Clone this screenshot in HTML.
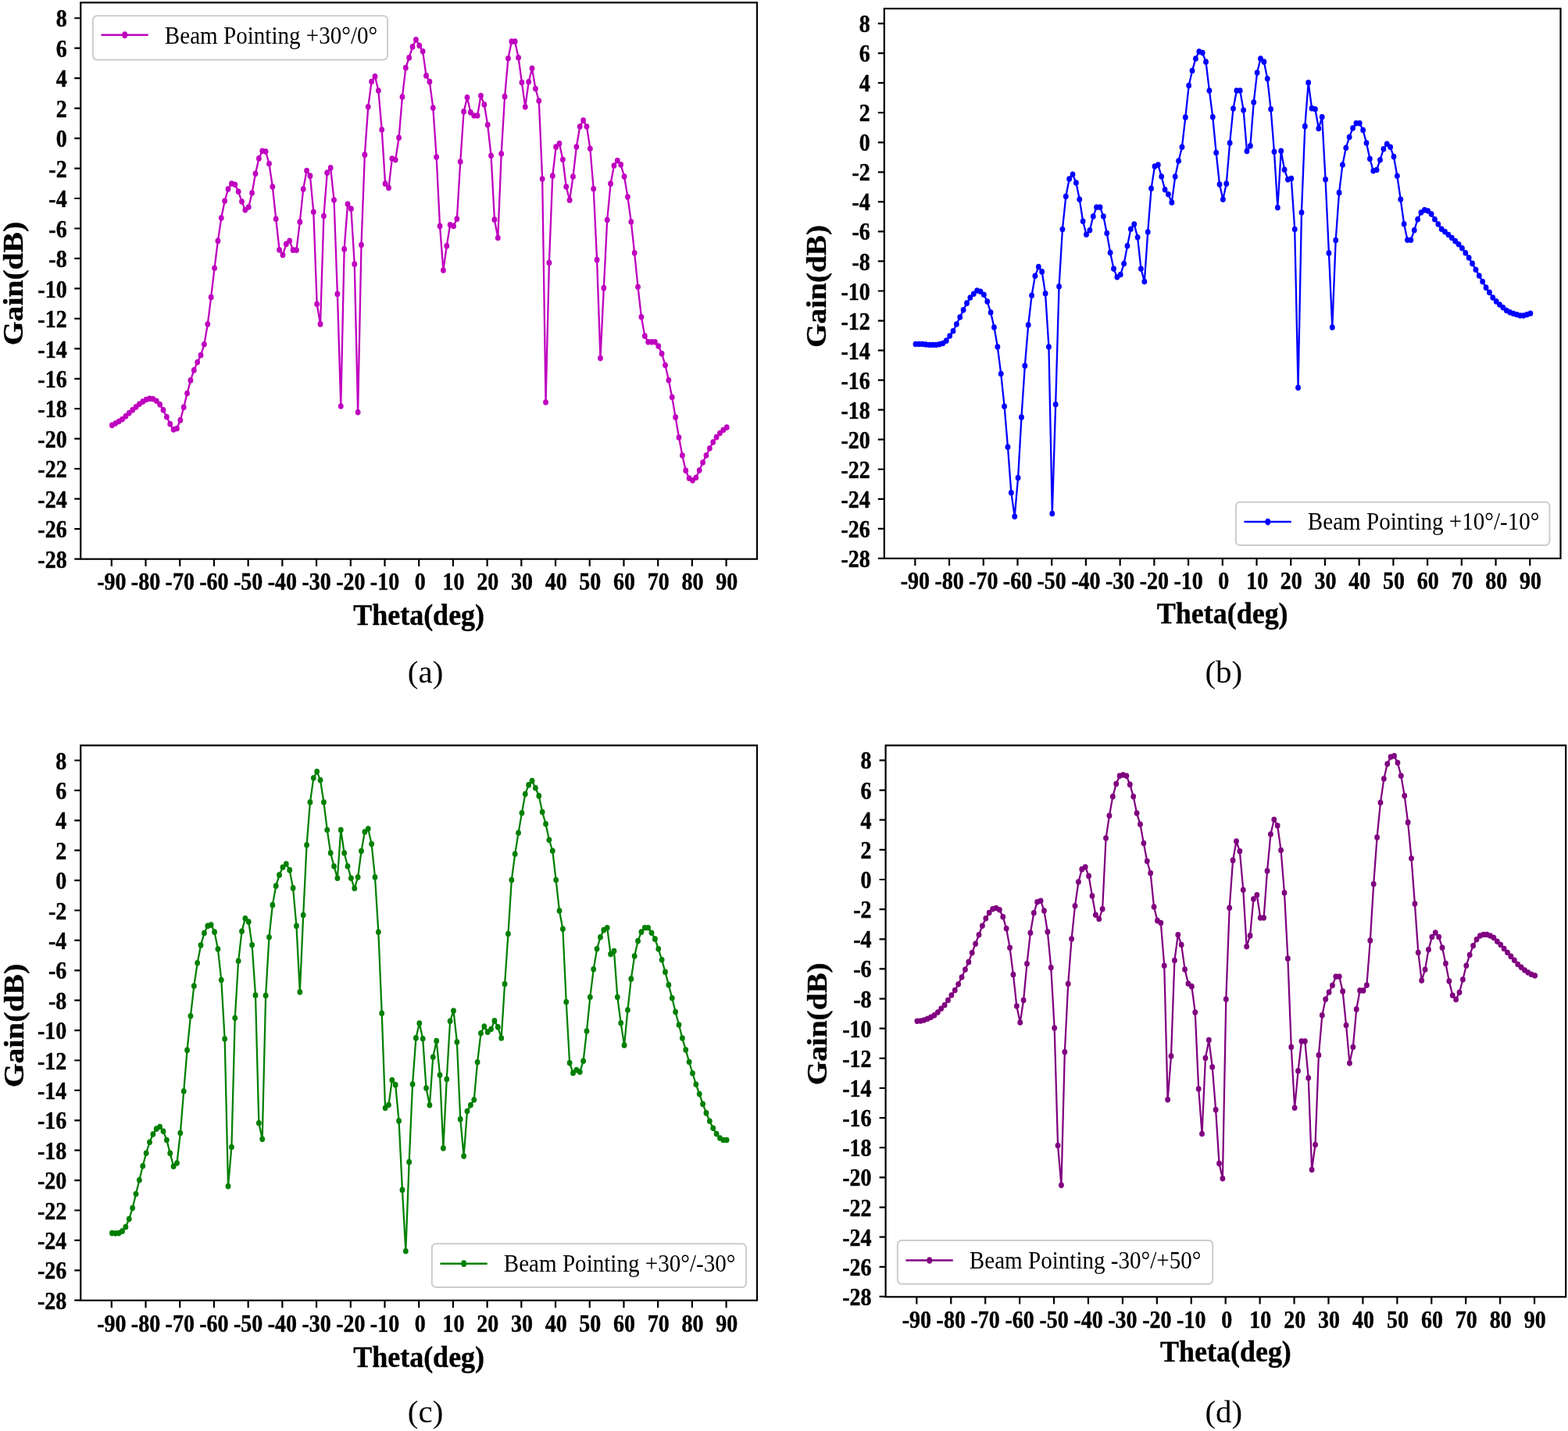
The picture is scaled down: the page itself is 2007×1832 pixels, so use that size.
<!DOCTYPE html>
<html lang="en"><head><meta charset="utf-8"><title>Beam pointing gain patterns</title>
<style>
html,body{margin:0;padding:0;background:#fff;}
body{width:2007px;height:1832px;overflow:hidden;}
svg{display:block;}
text{fill:#000;}
</style></head>
<body>
<svg width="2007" height="1832" viewBox="0 0 2007 1832">
<rect width="2007" height="1832" fill="#fff"/>
<g id="panel-a">
<polyline fill="none" stroke="#bf00bf" stroke-width="2.3" stroke-linejoin="round" points="143.41,544.45 147.78,541.99 152.15,539.52 156.52,536.73 160.89,532.94 165.27,528.83 169.64,524.89 174.01,521.11 178.38,517.33 182.75,514.2 187.12,511.57 191.49,510.42 195.86,510.75 200.23,513.22 204.6,517.82 208.98,524.89 213.35,533.77 217.72,542.81 222.09,549.88 226.46,548.56 230.83,537.88 235.2,521.44 239.57,503.52 243.94,486.91 248.31,473.93 252.69,463.73 257.06,454.69 261.43,440.72 265.8,415.07 270.17,380.39 274.54,343.24 278.91,308.38 283.28,279.05 287.65,257.35 292.02,242.07 296.4,235 300.77,236.31 305.14,245.35 309.51,258.01 313.88,268.86 318.25,265.08 322.62,247 326.99,222.34 331.36,202.94 335.73,193.24 340.11,194.06 344.48,209.52 348.85,239.11 353.22,280.21 357.59,319.99 361.96,326.4 366.33,312.43 370.7,308.32 375.07,320.15 379.44,320.15 383.82,284.15 388.19,242.07 392.56,218.56 396.93,225.13 401.3,271.33 405.67,389.27 410.04,414.91 414.41,276.59 418.78,221.19 423.15,214.94 427.53,256.04 431.9,376.44 436.27,519.96 440.64,318.91 445.01,261.3 449.38,267.22 453.75,338.14 458.12,527.85 462.49,313.58 466.86,198.17 471.24,136.86 475.61,104.47 479.98,97.89 484.35,115.98 488.72,166.12 493.09,235.16 497.46,240.42 501.83,203.11 506.2,204.58 510.57,176.31 514.95,124.03 519.32,86.72 523.69,73.89 528.06,59.92 532.43,50.88 536.8,58.44 541.17,65.84 545.54,96.91 549.91,104.63 554.28,138.01 558.66,200.97 563.03,289.41 567.4,346.1 571.77,314.89 576.14,287.77 580.51,289.41 584.88,280.21 589.25,207.05 593.62,142.94 597.99,124.85 602.37,143.92 606.74,148.03 611.11,148.03 615.48,122.55 619.85,133.9 624.22,159.87 628.59,199.32 632.96,281.19 637.33,304.54 641.7,196.86 646.08,123.7 650.45,74.71 654.82,53.18 659.19,53.18 663.56,73.73 667.93,105.62 672.3,136.86 676.67,104.8 681.04,87.54 685.41,113.51 689.79,128.96 694.16,229.08 698.53,514.97 702.9,336.44 707.27,225.13 711.64,188.15 716.01,183.87 720.38,204.26 724.75,239.11 729.12,256.2 733.5,226.12 737.87,187.98 742.24,162.01 746.61,154.12 750.98,162.01 755.35,190.28 759.72,241.74 764.09,332.66 768.46,458.58 772.83,368.66 777.21,281.52 781.58,235.16 785.95,211.98 790.32,205.57 794.69,210.83 799.06,226.12 803.43,252.09 807.8,283.99 812.17,323.77 816.54,367.35 820.92,405.81 825.29,430.14 829.66,437.87 834.03,437.87 838.4,437.87 842.77,442.97 847.14,452.83 851.51,467.46 855.88,486.86 860.25,508.56 864.63,534.2 869,560.01 873.37,583.03 877.74,602.43 882.11,612.29 886.48,615.08 890.85,611.47 895.22,602.1 899.59,592.07 903.96,583.03 908.34,573.99 912.71,566.1 917.08,559.68 921.45,554.59 925.82,550.48 930.19,547.19"/>
<g fill="#bf00bf"><ellipse cx="143.41" cy="544.45" rx="3.4" ry="3.83"/><ellipse cx="147.78" cy="541.99" rx="3.4" ry="3.83"/><ellipse cx="152.15" cy="539.52" rx="3.4" ry="3.83"/><ellipse cx="156.52" cy="536.73" rx="3.4" ry="3.83"/><ellipse cx="160.89" cy="532.94" rx="3.4" ry="3.83"/><ellipse cx="165.27" cy="528.83" rx="3.4" ry="3.83"/><ellipse cx="169.64" cy="524.89" rx="3.4" ry="3.83"/><ellipse cx="174.01" cy="521.11" rx="3.4" ry="3.83"/><ellipse cx="178.38" cy="517.33" rx="3.4" ry="3.83"/><ellipse cx="182.75" cy="514.2" rx="3.4" ry="3.83"/><ellipse cx="187.12" cy="511.57" rx="3.4" ry="3.83"/><ellipse cx="191.49" cy="510.42" rx="3.4" ry="3.83"/><ellipse cx="195.86" cy="510.75" rx="3.4" ry="3.83"/><ellipse cx="200.23" cy="513.22" rx="3.4" ry="3.83"/><ellipse cx="204.6" cy="517.82" rx="3.4" ry="3.83"/><ellipse cx="208.98" cy="524.89" rx="3.4" ry="3.83"/><ellipse cx="213.35" cy="533.77" rx="3.4" ry="3.83"/><ellipse cx="217.72" cy="542.81" rx="3.4" ry="3.83"/><ellipse cx="222.09" cy="549.88" rx="3.4" ry="3.83"/><ellipse cx="226.46" cy="548.56" rx="3.4" ry="3.83"/><ellipse cx="230.83" cy="537.88" rx="3.4" ry="3.83"/><ellipse cx="235.2" cy="521.44" rx="3.4" ry="3.83"/><ellipse cx="239.57" cy="503.52" rx="3.4" ry="3.83"/><ellipse cx="243.94" cy="486.91" rx="3.4" ry="3.83"/><ellipse cx="248.31" cy="473.93" rx="3.4" ry="3.83"/><ellipse cx="252.69" cy="463.73" rx="3.4" ry="3.83"/><ellipse cx="257.06" cy="454.69" rx="3.4" ry="3.83"/><ellipse cx="261.43" cy="440.72" rx="3.4" ry="3.83"/><ellipse cx="265.8" cy="415.07" rx="3.4" ry="3.83"/><ellipse cx="270.17" cy="380.39" rx="3.4" ry="3.83"/><ellipse cx="274.54" cy="343.24" rx="3.4" ry="3.83"/><ellipse cx="278.91" cy="308.38" rx="3.4" ry="3.83"/><ellipse cx="283.28" cy="279.05" rx="3.4" ry="3.83"/><ellipse cx="287.65" cy="257.35" rx="3.4" ry="3.83"/><ellipse cx="292.02" cy="242.07" rx="3.4" ry="3.83"/><ellipse cx="296.4" cy="235" rx="3.4" ry="3.83"/><ellipse cx="300.77" cy="236.31" rx="3.4" ry="3.83"/><ellipse cx="305.14" cy="245.35" rx="3.4" ry="3.83"/><ellipse cx="309.51" cy="258.01" rx="3.4" ry="3.83"/><ellipse cx="313.88" cy="268.86" rx="3.4" ry="3.83"/><ellipse cx="318.25" cy="265.08" rx="3.4" ry="3.83"/><ellipse cx="322.62" cy="247" rx="3.4" ry="3.83"/><ellipse cx="326.99" cy="222.34" rx="3.4" ry="3.83"/><ellipse cx="331.36" cy="202.94" rx="3.4" ry="3.83"/><ellipse cx="335.73" cy="193.24" rx="3.4" ry="3.83"/><ellipse cx="340.11" cy="194.06" rx="3.4" ry="3.83"/><ellipse cx="344.48" cy="209.52" rx="3.4" ry="3.83"/><ellipse cx="348.85" cy="239.11" rx="3.4" ry="3.83"/><ellipse cx="353.22" cy="280.21" rx="3.4" ry="3.83"/><ellipse cx="357.59" cy="319.99" rx="3.4" ry="3.83"/><ellipse cx="361.96" cy="326.4" rx="3.4" ry="3.83"/><ellipse cx="366.33" cy="312.43" rx="3.4" ry="3.83"/><ellipse cx="370.7" cy="308.32" rx="3.4" ry="3.83"/><ellipse cx="375.07" cy="320.15" rx="3.4" ry="3.83"/><ellipse cx="379.44" cy="320.15" rx="3.4" ry="3.83"/><ellipse cx="383.82" cy="284.15" rx="3.4" ry="3.83"/><ellipse cx="388.19" cy="242.07" rx="3.4" ry="3.83"/><ellipse cx="392.56" cy="218.56" rx="3.4" ry="3.83"/><ellipse cx="396.93" cy="225.13" rx="3.4" ry="3.83"/><ellipse cx="401.3" cy="271.33" rx="3.4" ry="3.83"/><ellipse cx="405.67" cy="389.27" rx="3.4" ry="3.83"/><ellipse cx="410.04" cy="414.91" rx="3.4" ry="3.83"/><ellipse cx="414.41" cy="276.59" rx="3.4" ry="3.83"/><ellipse cx="418.78" cy="221.19" rx="3.4" ry="3.83"/><ellipse cx="423.15" cy="214.94" rx="3.4" ry="3.83"/><ellipse cx="427.53" cy="256.04" rx="3.4" ry="3.83"/><ellipse cx="431.9" cy="376.44" rx="3.4" ry="3.83"/><ellipse cx="436.27" cy="519.96" rx="3.4" ry="3.83"/><ellipse cx="440.64" cy="318.91" rx="3.4" ry="3.83"/><ellipse cx="445.01" cy="261.3" rx="3.4" ry="3.83"/><ellipse cx="449.38" cy="267.22" rx="3.4" ry="3.83"/><ellipse cx="453.75" cy="338.14" rx="3.4" ry="3.83"/><ellipse cx="458.12" cy="527.85" rx="3.4" ry="3.83"/><ellipse cx="462.49" cy="313.58" rx="3.4" ry="3.83"/><ellipse cx="466.86" cy="198.17" rx="3.4" ry="3.83"/><ellipse cx="471.24" cy="136.86" rx="3.4" ry="3.83"/><ellipse cx="475.61" cy="104.47" rx="3.4" ry="3.83"/><ellipse cx="479.98" cy="97.89" rx="3.4" ry="3.83"/><ellipse cx="484.35" cy="115.98" rx="3.4" ry="3.83"/><ellipse cx="488.72" cy="166.12" rx="3.4" ry="3.83"/><ellipse cx="493.09" cy="235.16" rx="3.4" ry="3.83"/><ellipse cx="497.46" cy="240.42" rx="3.4" ry="3.83"/><ellipse cx="501.83" cy="203.11" rx="3.4" ry="3.83"/><ellipse cx="506.2" cy="204.58" rx="3.4" ry="3.83"/><ellipse cx="510.57" cy="176.31" rx="3.4" ry="3.83"/><ellipse cx="514.95" cy="124.03" rx="3.4" ry="3.83"/><ellipse cx="519.32" cy="86.72" rx="3.4" ry="3.83"/><ellipse cx="523.69" cy="73.89" rx="3.4" ry="3.83"/><ellipse cx="528.06" cy="59.92" rx="3.4" ry="3.83"/><ellipse cx="532.43" cy="50.88" rx="3.4" ry="3.83"/><ellipse cx="536.8" cy="58.44" rx="3.4" ry="3.83"/><ellipse cx="541.17" cy="65.84" rx="3.4" ry="3.83"/><ellipse cx="545.54" cy="96.91" rx="3.4" ry="3.83"/><ellipse cx="549.91" cy="104.63" rx="3.4" ry="3.83"/><ellipse cx="554.28" cy="138.01" rx="3.4" ry="3.83"/><ellipse cx="558.66" cy="200.97" rx="3.4" ry="3.83"/><ellipse cx="563.03" cy="289.41" rx="3.4" ry="3.83"/><ellipse cx="567.4" cy="346.1" rx="3.4" ry="3.83"/><ellipse cx="571.77" cy="314.89" rx="3.4" ry="3.83"/><ellipse cx="576.14" cy="287.77" rx="3.4" ry="3.83"/><ellipse cx="580.51" cy="289.41" rx="3.4" ry="3.83"/><ellipse cx="584.88" cy="280.21" rx="3.4" ry="3.83"/><ellipse cx="589.25" cy="207.05" rx="3.4" ry="3.83"/><ellipse cx="593.62" cy="142.94" rx="3.4" ry="3.83"/><ellipse cx="597.99" cy="124.85" rx="3.4" ry="3.83"/><ellipse cx="602.37" cy="143.92" rx="3.4" ry="3.83"/><ellipse cx="606.74" cy="148.03" rx="3.4" ry="3.83"/><ellipse cx="611.11" cy="148.03" rx="3.4" ry="3.83"/><ellipse cx="615.48" cy="122.55" rx="3.4" ry="3.83"/><ellipse cx="619.85" cy="133.9" rx="3.4" ry="3.83"/><ellipse cx="624.22" cy="159.87" rx="3.4" ry="3.83"/><ellipse cx="628.59" cy="199.32" rx="3.4" ry="3.83"/><ellipse cx="632.96" cy="281.19" rx="3.4" ry="3.83"/><ellipse cx="637.33" cy="304.54" rx="3.4" ry="3.83"/><ellipse cx="641.7" cy="196.86" rx="3.4" ry="3.83"/><ellipse cx="646.08" cy="123.7" rx="3.4" ry="3.83"/><ellipse cx="650.45" cy="74.71" rx="3.4" ry="3.83"/><ellipse cx="654.82" cy="53.18" rx="3.4" ry="3.83"/><ellipse cx="659.19" cy="53.18" rx="3.4" ry="3.83"/><ellipse cx="663.56" cy="73.73" rx="3.4" ry="3.83"/><ellipse cx="667.93" cy="105.62" rx="3.4" ry="3.83"/><ellipse cx="672.3" cy="136.86" rx="3.4" ry="3.83"/><ellipse cx="676.67" cy="104.8" rx="3.4" ry="3.83"/><ellipse cx="681.04" cy="87.54" rx="3.4" ry="3.83"/><ellipse cx="685.41" cy="113.51" rx="3.4" ry="3.83"/><ellipse cx="689.79" cy="128.96" rx="3.4" ry="3.83"/><ellipse cx="694.16" cy="229.08" rx="3.4" ry="3.83"/><ellipse cx="698.53" cy="514.97" rx="3.4" ry="3.83"/><ellipse cx="702.9" cy="336.44" rx="3.4" ry="3.83"/><ellipse cx="707.27" cy="225.13" rx="3.4" ry="3.83"/><ellipse cx="711.64" cy="188.15" rx="3.4" ry="3.83"/><ellipse cx="716.01" cy="183.87" rx="3.4" ry="3.83"/><ellipse cx="720.38" cy="204.26" rx="3.4" ry="3.83"/><ellipse cx="724.75" cy="239.11" rx="3.4" ry="3.83"/><ellipse cx="729.12" cy="256.2" rx="3.4" ry="3.83"/><ellipse cx="733.5" cy="226.12" rx="3.4" ry="3.83"/><ellipse cx="737.87" cy="187.98" rx="3.4" ry="3.83"/><ellipse cx="742.24" cy="162.01" rx="3.4" ry="3.83"/><ellipse cx="746.61" cy="154.12" rx="3.4" ry="3.83"/><ellipse cx="750.98" cy="162.01" rx="3.4" ry="3.83"/><ellipse cx="755.35" cy="190.28" rx="3.4" ry="3.83"/><ellipse cx="759.72" cy="241.74" rx="3.4" ry="3.83"/><ellipse cx="764.09" cy="332.66" rx="3.4" ry="3.83"/><ellipse cx="768.46" cy="458.58" rx="3.4" ry="3.83"/><ellipse cx="772.83" cy="368.66" rx="3.4" ry="3.83"/><ellipse cx="777.21" cy="281.52" rx="3.4" ry="3.83"/><ellipse cx="781.58" cy="235.16" rx="3.4" ry="3.83"/><ellipse cx="785.95" cy="211.98" rx="3.4" ry="3.83"/><ellipse cx="790.32" cy="205.57" rx="3.4" ry="3.83"/><ellipse cx="794.69" cy="210.83" rx="3.4" ry="3.83"/><ellipse cx="799.06" cy="226.12" rx="3.4" ry="3.83"/><ellipse cx="803.43" cy="252.09" rx="3.4" ry="3.83"/><ellipse cx="807.8" cy="283.99" rx="3.4" ry="3.83"/><ellipse cx="812.17" cy="323.77" rx="3.4" ry="3.83"/><ellipse cx="816.54" cy="367.35" rx="3.4" ry="3.83"/><ellipse cx="820.92" cy="405.81" rx="3.4" ry="3.83"/><ellipse cx="825.29" cy="430.14" rx="3.4" ry="3.83"/><ellipse cx="829.66" cy="437.87" rx="3.4" ry="3.83"/><ellipse cx="834.03" cy="437.87" rx="3.4" ry="3.83"/><ellipse cx="838.4" cy="437.87" rx="3.4" ry="3.83"/><ellipse cx="842.77" cy="442.97" rx="3.4" ry="3.83"/><ellipse cx="847.14" cy="452.83" rx="3.4" ry="3.83"/><ellipse cx="851.51" cy="467.46" rx="3.4" ry="3.83"/><ellipse cx="855.88" cy="486.86" rx="3.4" ry="3.83"/><ellipse cx="860.25" cy="508.56" rx="3.4" ry="3.83"/><ellipse cx="864.63" cy="534.2" rx="3.4" ry="3.83"/><ellipse cx="869" cy="560.01" rx="3.4" ry="3.83"/><ellipse cx="873.37" cy="583.03" rx="3.4" ry="3.83"/><ellipse cx="877.74" cy="602.43" rx="3.4" ry="3.83"/><ellipse cx="882.11" cy="612.29" rx="3.4" ry="3.83"/><ellipse cx="886.48" cy="615.08" rx="3.4" ry="3.83"/><ellipse cx="890.85" cy="611.47" rx="3.4" ry="3.83"/><ellipse cx="895.22" cy="602.1" rx="3.4" ry="3.83"/><ellipse cx="899.59" cy="592.07" rx="3.4" ry="3.83"/><ellipse cx="903.96" cy="583.03" rx="3.4" ry="3.83"/><ellipse cx="908.34" cy="573.99" rx="3.4" ry="3.83"/><ellipse cx="912.71" cy="566.1" rx="3.4" ry="3.83"/><ellipse cx="917.08" cy="559.68" rx="3.4" ry="3.83"/><ellipse cx="921.45" cy="554.59" rx="3.4" ry="3.83"/><ellipse cx="925.82" cy="550.48" rx="3.4" ry="3.83"/><ellipse cx="930.19" cy="547.19" rx="3.4" ry="3.83"/></g>
<rect x="103.25" y="3.3" width="865.75" height="712.4" fill="none" stroke="#000" stroke-width="2.2"/>
<path d="M142.81 715.7v9.37M186.52 715.7v9.37M230.23 715.7v9.37M273.94 715.7v9.37M317.65 715.7v9.37M361.36 715.7v9.37M405.07 715.7v9.37M448.78 715.7v9.37M492.49 715.7v9.37M536.2 715.7v9.37M579.91 715.7v9.37M623.62 715.7v9.37M667.33 715.7v9.37M711.04 715.7v9.37M754.75 715.7v9.37M798.46 715.7v9.37M842.17 715.7v9.37M885.88 715.7v9.37M929.59 715.7v9.37M103.25 715.54h-7.98M103.25 677.08h-7.98M103.25 638.62h-7.98M103.25 600.16h-7.98M103.25 561.7h-7.98M103.25 523.24h-7.98M103.25 484.78h-7.98M103.25 446.32h-7.98M103.25 407.86h-7.98M103.25 369.4h-7.98M103.25 330.94h-7.98M103.25 292.48h-7.98M103.25 254.02h-7.98M103.25 215.56h-7.98M103.25 177.1h-7.98M103.25 138.64h-7.98M103.25 100.18h-7.98M103.25 61.72h-7.98M103.25 23.26h-7.98" stroke="#000" stroke-width="2.2" fill="none"/>
<g font-family='"Liberation Serif","Times New Roman",Times,serif' font-weight="bold" font-size="28.0" fill="#000" stroke="#000" stroke-width="0.4" stroke-linejoin="round">
<text transform="translate(142.81,755.4) scale(1,1.15)" text-anchor="middle">-90</text>
<text transform="translate(186.52,755.4) scale(1,1.15)" text-anchor="middle">-80</text>
<text transform="translate(230.23,755.4) scale(1,1.15)" text-anchor="middle">-70</text>
<text transform="translate(273.94,755.4) scale(1,1.15)" text-anchor="middle">-60</text>
<text transform="translate(317.65,755.4) scale(1,1.15)" text-anchor="middle">-50</text>
<text transform="translate(361.36,755.4) scale(1,1.15)" text-anchor="middle">-40</text>
<text transform="translate(405.07,755.4) scale(1,1.15)" text-anchor="middle">-30</text>
<text transform="translate(448.78,755.4) scale(1,1.15)" text-anchor="middle">-20</text>
<text transform="translate(492.49,755.4) scale(1,1.15)" text-anchor="middle">-10</text>
<text transform="translate(537.7,755.4) scale(1,1.15)" text-anchor="middle">0</text>
<text transform="translate(580.51,755.4) scale(1,1.15)" text-anchor="middle">10</text>
<text transform="translate(624.22,755.4) scale(1,1.15)" text-anchor="middle">20</text>
<text transform="translate(667.93,755.4) scale(1,1.15)" text-anchor="middle">30</text>
<text transform="translate(711.64,755.4) scale(1,1.15)" text-anchor="middle">40</text>
<text transform="translate(755.35,755.4) scale(1,1.15)" text-anchor="middle">50</text>
<text transform="translate(799.06,755.4) scale(1,1.15)" text-anchor="middle">60</text>
<text transform="translate(842.77,755.4) scale(1,1.15)" text-anchor="middle">70</text>
<text transform="translate(886.48,755.4) scale(1,1.15)" text-anchor="middle">80</text>
<text transform="translate(930.19,755.4) scale(1,1.15)" text-anchor="middle">90</text>
<text transform="translate(85.68,726.73) scale(1,1.15)" text-anchor="end">-28</text>
<text transform="translate(85.68,688.27) scale(1,1.15)" text-anchor="end">-26</text>
<text transform="translate(85.68,649.81) scale(1,1.15)" text-anchor="end">-24</text>
<text transform="translate(85.68,611.35) scale(1,1.15)" text-anchor="end">-22</text>
<text transform="translate(85.68,572.89) scale(1,1.15)" text-anchor="end">-20</text>
<text transform="translate(85.68,534.43) scale(1,1.15)" text-anchor="end">-18</text>
<text transform="translate(85.68,495.97) scale(1,1.15)" text-anchor="end">-16</text>
<text transform="translate(85.68,457.51) scale(1,1.15)" text-anchor="end">-14</text>
<text transform="translate(85.68,419.05) scale(1,1.15)" text-anchor="end">-12</text>
<text transform="translate(85.68,380.59) scale(1,1.15)" text-anchor="end">-10</text>
<text transform="translate(85.68,342.13) scale(1,1.15)" text-anchor="end">-8</text>
<text transform="translate(85.68,303.67) scale(1,1.15)" text-anchor="end">-6</text>
<text transform="translate(85.68,265.21) scale(1,1.15)" text-anchor="end">-4</text>
<text transform="translate(85.68,226.75) scale(1,1.15)" text-anchor="end">-2</text>
<text transform="translate(85.68,188.29) scale(1,1.15)" text-anchor="end">0</text>
<text transform="translate(85.68,149.83) scale(1,1.15)" text-anchor="end">2</text>
<text transform="translate(85.68,111.37) scale(1,1.15)" text-anchor="end">4</text>
<text transform="translate(85.68,72.91) scale(1,1.15)" text-anchor="end">6</text>
<text transform="translate(85.68,34.45) scale(1,1.15)" text-anchor="end">8</text>
</g>
<text transform="translate(536.12,799.9) scale(1,1.07)" text-anchor="middle" font-family='"Liberation Serif","Times New Roman",Times,serif' font-weight="bold" font-size="36.0" stroke="#000" stroke-width="0.4" stroke-linejoin="round">Theta(deg)</text>
<text transform="translate(29.1,363) scale(1,1.1) rotate(-90)" text-anchor="middle" font-family='"Liberation Serif","Times New Roman",Times,serif' font-weight="bold" font-size="36.0" stroke="#000" stroke-width="0.4" stroke-linejoin="round">Gain(dB)</text>
<rect x="118.85" y="20.3" width="377.2" height="56.1" rx="5" ry="5.5" fill="#fff" fill-opacity="0.8" stroke="#cccccc" stroke-width="2"/>
<path d="M129.45 44.8H189.75" stroke="#bf00bf" stroke-width="2.5"/>
<ellipse cx="159.75" cy="44.8" rx="3.4" ry="4.43" fill="#bf00bf"/>
<text transform="translate(210.85,56.45) scale(1,1.1)" font-family='"Liberation Serif","Times New Roman",Times,serif' font-size="29.1">Beam Pointing +30°/0°</text>
<text x="544.6" y="874.2" text-anchor="middle" font-family='"Liberation Serif","Times New Roman",Times,serif' font-size="41">(a)</text>
</g>
<g id="panel-b">
<polyline fill="none" stroke="#0000ff" stroke-width="2.3" stroke-linejoin="round" points="1171.92,440.43 1176.29,440.43 1180.66,440.43 1185.04,441.09 1189.41,441.58 1193.78,441.58 1198.15,441.58 1202.52,440.76 1206.9,439.44 1211.27,436.15 1215.64,430.07 1220.01,423.82 1224.38,414.95 1228.76,405.91 1233.13,396.86 1237.5,388.15 1241.87,381.08 1246.24,376.32 1250.62,372.07 1254.99,373.22 1259.36,377.33 1263.73,386.04 1268.1,400.01 1272.48,418.92 1276.85,444.07 1281.22,478.57 1285.59,520.32 1289.96,572.27 1294.34,630.79 1298.71,661.21 1303.08,611.73 1307.45,534.13 1311.82,468.37 1316.2,416.12 1320.57,378.31 1324.94,353.16 1329.31,341.65 1333.68,347.9 1338.06,375.85 1342.43,444.07 1346.8,657.43 1351.17,517.69 1355.54,366.81 1359.92,293.49 1364.29,251.57 1368.66,229.04 1373.03,223.29 1377.4,233.98 1381.78,255.35 1386.15,283.29 1390.52,300.23 1394.89,294.8 1399.26,277.05 1403.64,265.21 1408.01,265.21 1412.38,277.05 1416.75,298.58 1421.12,323.57 1425.5,344.12 1429.87,354.81 1434.24,351.52 1438.61,337.54 1442.98,314.86 1447.36,293.16 1451.73,286.91 1456.1,303.84 1460.47,344.12 1464.84,360.56 1469.22,296.94 1473.59,241.37 1477.96,213.1 1482.33,210.97 1486.7,226.09 1491.08,242.7 1495.45,248.78 1499.82,259.14 1504.19,226.09 1508.56,206.04 1512.94,188.28 1517.31,150.14 1521.68,109.54 1526.05,90.47 1530.42,75.02 1534.8,65.97 1539.17,67.62 1543.54,79.13 1547.91,115.95 1552.28,149.81 1556.66,195.52 1561.03,236.12 1565.4,255.35 1569.77,235.13 1574.14,183.02 1578.52,138.96 1582.89,115.95 1587.26,115.95 1591.63,141.1 1596,193.38 1600.38,186.8 1604.75,130.91 1609.12,92.93 1613.49,75.02 1617.86,79.13 1622.24,100.83 1626.61,139.79 1630.98,194.36 1635.35,265.71 1639.72,193.21 1644.1,217.22 1648.47,229.87 1652.84,228.56 1657.21,293.49 1661.58,496.37 1665.96,271.96 1670.33,161.65 1674.7,105.76 1679.07,138.64 1683.44,139.79 1687.82,164.45 1692.19,149.81 1696.56,229.87 1700.93,323.91 1705.3,419.11 1709.68,307.47 1714.05,246.64 1718.42,210.97 1722.79,189.27 1727.16,175.46 1731.54,164.12 1735.91,157.87 1740.28,157.87 1744.65,166.58 1749.02,183.02 1753.4,203.24 1757.77,218.69 1762.14,217.54 1766.51,204.72 1770.88,190.75 1775.26,184.17 1779.63,188.28 1784,200.61 1788.37,225.27 1792.74,255.21 1797.12,286.77 1801.49,307.32 1805.86,307.32 1810.23,294.66 1814.6,280.69 1818.98,271.98 1823.35,268.85 1827.72,270 1832.09,274.11 1836.46,280.69 1840.84,286.94 1845.21,293.35 1849.58,296.8 1853.95,300.42 1858.32,304.53 1862.7,308.64 1867.07,312.75 1871.44,317.68 1875.81,323.76 1880.18,330.01 1884.56,337.4 1888.93,345.3 1893.3,353.02 1897.67,360.42 1902.04,368.15 1906.42,374.39 1910.79,380.97 1915.16,385.9 1919.53,390.01 1923.9,393.79 1928.28,397.41 1932.65,399.87 1937.02,401.52 1941.39,402.83 1945.76,403.98 1950.14,403.98 1954.51,402.67 1958.88,401.19"/>
<g fill="#0000ff"><ellipse cx="1171.92" cy="440.43" rx="3.4" ry="3.78"/><ellipse cx="1176.29" cy="440.43" rx="3.4" ry="3.78"/><ellipse cx="1180.66" cy="440.43" rx="3.4" ry="3.78"/><ellipse cx="1185.04" cy="441.09" rx="3.4" ry="3.78"/><ellipse cx="1189.41" cy="441.58" rx="3.4" ry="3.78"/><ellipse cx="1193.78" cy="441.58" rx="3.4" ry="3.78"/><ellipse cx="1198.15" cy="441.58" rx="3.4" ry="3.78"/><ellipse cx="1202.52" cy="440.76" rx="3.4" ry="3.78"/><ellipse cx="1206.9" cy="439.44" rx="3.4" ry="3.78"/><ellipse cx="1211.27" cy="436.15" rx="3.4" ry="3.78"/><ellipse cx="1215.64" cy="430.07" rx="3.4" ry="3.78"/><ellipse cx="1220.01" cy="423.82" rx="3.4" ry="3.78"/><ellipse cx="1224.38" cy="414.95" rx="3.4" ry="3.78"/><ellipse cx="1228.76" cy="405.91" rx="3.4" ry="3.78"/><ellipse cx="1233.13" cy="396.86" rx="3.4" ry="3.78"/><ellipse cx="1237.5" cy="388.15" rx="3.4" ry="3.78"/><ellipse cx="1241.87" cy="381.08" rx="3.4" ry="3.78"/><ellipse cx="1246.24" cy="376.32" rx="3.4" ry="3.78"/><ellipse cx="1250.62" cy="372.07" rx="3.4" ry="3.78"/><ellipse cx="1254.99" cy="373.22" rx="3.4" ry="3.78"/><ellipse cx="1259.36" cy="377.33" rx="3.4" ry="3.78"/><ellipse cx="1263.73" cy="386.04" rx="3.4" ry="3.78"/><ellipse cx="1268.1" cy="400.01" rx="3.4" ry="3.78"/><ellipse cx="1272.48" cy="418.92" rx="3.4" ry="3.78"/><ellipse cx="1276.85" cy="444.07" rx="3.4" ry="3.78"/><ellipse cx="1281.22" cy="478.57" rx="3.4" ry="3.78"/><ellipse cx="1285.59" cy="520.32" rx="3.4" ry="3.78"/><ellipse cx="1289.96" cy="572.27" rx="3.4" ry="3.78"/><ellipse cx="1294.34" cy="630.79" rx="3.4" ry="3.78"/><ellipse cx="1298.71" cy="661.21" rx="3.4" ry="3.78"/><ellipse cx="1303.08" cy="611.73" rx="3.4" ry="3.78"/><ellipse cx="1307.45" cy="534.13" rx="3.4" ry="3.78"/><ellipse cx="1311.82" cy="468.37" rx="3.4" ry="3.78"/><ellipse cx="1316.2" cy="416.12" rx="3.4" ry="3.78"/><ellipse cx="1320.57" cy="378.31" rx="3.4" ry="3.78"/><ellipse cx="1324.94" cy="353.16" rx="3.4" ry="3.78"/><ellipse cx="1329.31" cy="341.65" rx="3.4" ry="3.78"/><ellipse cx="1333.68" cy="347.9" rx="3.4" ry="3.78"/><ellipse cx="1338.06" cy="375.85" rx="3.4" ry="3.78"/><ellipse cx="1342.43" cy="444.07" rx="3.4" ry="3.78"/><ellipse cx="1346.8" cy="657.43" rx="3.4" ry="3.78"/><ellipse cx="1351.17" cy="517.69" rx="3.4" ry="3.78"/><ellipse cx="1355.54" cy="366.81" rx="3.4" ry="3.78"/><ellipse cx="1359.92" cy="293.49" rx="3.4" ry="3.78"/><ellipse cx="1364.29" cy="251.57" rx="3.4" ry="3.78"/><ellipse cx="1368.66" cy="229.04" rx="3.4" ry="3.78"/><ellipse cx="1373.03" cy="223.29" rx="3.4" ry="3.78"/><ellipse cx="1377.4" cy="233.98" rx="3.4" ry="3.78"/><ellipse cx="1381.78" cy="255.35" rx="3.4" ry="3.78"/><ellipse cx="1386.15" cy="283.29" rx="3.4" ry="3.78"/><ellipse cx="1390.52" cy="300.23" rx="3.4" ry="3.78"/><ellipse cx="1394.89" cy="294.8" rx="3.4" ry="3.78"/><ellipse cx="1399.26" cy="277.05" rx="3.4" ry="3.78"/><ellipse cx="1403.64" cy="265.21" rx="3.4" ry="3.78"/><ellipse cx="1408.01" cy="265.21" rx="3.4" ry="3.78"/><ellipse cx="1412.38" cy="277.05" rx="3.4" ry="3.78"/><ellipse cx="1416.75" cy="298.58" rx="3.4" ry="3.78"/><ellipse cx="1421.12" cy="323.57" rx="3.4" ry="3.78"/><ellipse cx="1425.5" cy="344.12" rx="3.4" ry="3.78"/><ellipse cx="1429.87" cy="354.81" rx="3.4" ry="3.78"/><ellipse cx="1434.24" cy="351.52" rx="3.4" ry="3.78"/><ellipse cx="1438.61" cy="337.54" rx="3.4" ry="3.78"/><ellipse cx="1442.98" cy="314.86" rx="3.4" ry="3.78"/><ellipse cx="1447.36" cy="293.16" rx="3.4" ry="3.78"/><ellipse cx="1451.73" cy="286.91" rx="3.4" ry="3.78"/><ellipse cx="1456.1" cy="303.84" rx="3.4" ry="3.78"/><ellipse cx="1460.47" cy="344.12" rx="3.4" ry="3.78"/><ellipse cx="1464.84" cy="360.56" rx="3.4" ry="3.78"/><ellipse cx="1469.22" cy="296.94" rx="3.4" ry="3.78"/><ellipse cx="1473.59" cy="241.37" rx="3.4" ry="3.78"/><ellipse cx="1477.96" cy="213.1" rx="3.4" ry="3.78"/><ellipse cx="1482.33" cy="210.97" rx="3.4" ry="3.78"/><ellipse cx="1486.7" cy="226.09" rx="3.4" ry="3.78"/><ellipse cx="1491.08" cy="242.7" rx="3.4" ry="3.78"/><ellipse cx="1495.45" cy="248.78" rx="3.4" ry="3.78"/><ellipse cx="1499.82" cy="259.14" rx="3.4" ry="3.78"/><ellipse cx="1504.19" cy="226.09" rx="3.4" ry="3.78"/><ellipse cx="1508.56" cy="206.04" rx="3.4" ry="3.78"/><ellipse cx="1512.94" cy="188.28" rx="3.4" ry="3.78"/><ellipse cx="1517.31" cy="150.14" rx="3.4" ry="3.78"/><ellipse cx="1521.68" cy="109.54" rx="3.4" ry="3.78"/><ellipse cx="1526.05" cy="90.47" rx="3.4" ry="3.78"/><ellipse cx="1530.42" cy="75.02" rx="3.4" ry="3.78"/><ellipse cx="1534.8" cy="65.97" rx="3.4" ry="3.78"/><ellipse cx="1539.17" cy="67.62" rx="3.4" ry="3.78"/><ellipse cx="1543.54" cy="79.13" rx="3.4" ry="3.78"/><ellipse cx="1547.91" cy="115.95" rx="3.4" ry="3.78"/><ellipse cx="1552.28" cy="149.81" rx="3.4" ry="3.78"/><ellipse cx="1556.66" cy="195.52" rx="3.4" ry="3.78"/><ellipse cx="1561.03" cy="236.12" rx="3.4" ry="3.78"/><ellipse cx="1565.4" cy="255.35" rx="3.4" ry="3.78"/><ellipse cx="1569.77" cy="235.13" rx="3.4" ry="3.78"/><ellipse cx="1574.14" cy="183.02" rx="3.4" ry="3.78"/><ellipse cx="1578.52" cy="138.96" rx="3.4" ry="3.78"/><ellipse cx="1582.89" cy="115.95" rx="3.4" ry="3.78"/><ellipse cx="1587.26" cy="115.95" rx="3.4" ry="3.78"/><ellipse cx="1591.63" cy="141.1" rx="3.4" ry="3.78"/><ellipse cx="1596" cy="193.38" rx="3.4" ry="3.78"/><ellipse cx="1600.38" cy="186.8" rx="3.4" ry="3.78"/><ellipse cx="1604.75" cy="130.91" rx="3.4" ry="3.78"/><ellipse cx="1609.12" cy="92.93" rx="3.4" ry="3.78"/><ellipse cx="1613.49" cy="75.02" rx="3.4" ry="3.78"/><ellipse cx="1617.86" cy="79.13" rx="3.4" ry="3.78"/><ellipse cx="1622.24" cy="100.83" rx="3.4" ry="3.78"/><ellipse cx="1626.61" cy="139.79" rx="3.4" ry="3.78"/><ellipse cx="1630.98" cy="194.36" rx="3.4" ry="3.78"/><ellipse cx="1635.35" cy="265.71" rx="3.4" ry="3.78"/><ellipse cx="1639.72" cy="193.21" rx="3.4" ry="3.78"/><ellipse cx="1644.1" cy="217.22" rx="3.4" ry="3.78"/><ellipse cx="1648.47" cy="229.87" rx="3.4" ry="3.78"/><ellipse cx="1652.84" cy="228.56" rx="3.4" ry="3.78"/><ellipse cx="1657.21" cy="293.49" rx="3.4" ry="3.78"/><ellipse cx="1661.58" cy="496.37" rx="3.4" ry="3.78"/><ellipse cx="1665.96" cy="271.96" rx="3.4" ry="3.78"/><ellipse cx="1670.33" cy="161.65" rx="3.4" ry="3.78"/><ellipse cx="1674.7" cy="105.76" rx="3.4" ry="3.78"/><ellipse cx="1679.07" cy="138.64" rx="3.4" ry="3.78"/><ellipse cx="1683.44" cy="139.79" rx="3.4" ry="3.78"/><ellipse cx="1687.82" cy="164.45" rx="3.4" ry="3.78"/><ellipse cx="1692.19" cy="149.81" rx="3.4" ry="3.78"/><ellipse cx="1696.56" cy="229.87" rx="3.4" ry="3.78"/><ellipse cx="1700.93" cy="323.91" rx="3.4" ry="3.78"/><ellipse cx="1705.3" cy="419.11" rx="3.4" ry="3.78"/><ellipse cx="1709.68" cy="307.47" rx="3.4" ry="3.78"/><ellipse cx="1714.05" cy="246.64" rx="3.4" ry="3.78"/><ellipse cx="1718.42" cy="210.97" rx="3.4" ry="3.78"/><ellipse cx="1722.79" cy="189.27" rx="3.4" ry="3.78"/><ellipse cx="1727.16" cy="175.46" rx="3.4" ry="3.78"/><ellipse cx="1731.54" cy="164.12" rx="3.4" ry="3.78"/><ellipse cx="1735.91" cy="157.87" rx="3.4" ry="3.78"/><ellipse cx="1740.28" cy="157.87" rx="3.4" ry="3.78"/><ellipse cx="1744.65" cy="166.58" rx="3.4" ry="3.78"/><ellipse cx="1749.02" cy="183.02" rx="3.4" ry="3.78"/><ellipse cx="1753.4" cy="203.24" rx="3.4" ry="3.78"/><ellipse cx="1757.77" cy="218.69" rx="3.4" ry="3.78"/><ellipse cx="1762.14" cy="217.54" rx="3.4" ry="3.78"/><ellipse cx="1766.51" cy="204.72" rx="3.4" ry="3.78"/><ellipse cx="1770.88" cy="190.75" rx="3.4" ry="3.78"/><ellipse cx="1775.26" cy="184.17" rx="3.4" ry="3.78"/><ellipse cx="1779.63" cy="188.28" rx="3.4" ry="3.78"/><ellipse cx="1784" cy="200.61" rx="3.4" ry="3.78"/><ellipse cx="1788.37" cy="225.27" rx="3.4" ry="3.78"/><ellipse cx="1792.74" cy="255.21" rx="3.4" ry="3.78"/><ellipse cx="1797.12" cy="286.77" rx="3.4" ry="3.78"/><ellipse cx="1801.49" cy="307.32" rx="3.4" ry="3.78"/><ellipse cx="1805.86" cy="307.32" rx="3.4" ry="3.78"/><ellipse cx="1810.23" cy="294.66" rx="3.4" ry="3.78"/><ellipse cx="1814.6" cy="280.69" rx="3.4" ry="3.78"/><ellipse cx="1818.98" cy="271.98" rx="3.4" ry="3.78"/><ellipse cx="1823.35" cy="268.85" rx="3.4" ry="3.78"/><ellipse cx="1827.72" cy="270" rx="3.4" ry="3.78"/><ellipse cx="1832.09" cy="274.11" rx="3.4" ry="3.78"/><ellipse cx="1836.46" cy="280.69" rx="3.4" ry="3.78"/><ellipse cx="1840.84" cy="286.94" rx="3.4" ry="3.78"/><ellipse cx="1845.21" cy="293.35" rx="3.4" ry="3.78"/><ellipse cx="1849.58" cy="296.8" rx="3.4" ry="3.78"/><ellipse cx="1853.95" cy="300.42" rx="3.4" ry="3.78"/><ellipse cx="1858.32" cy="304.53" rx="3.4" ry="3.78"/><ellipse cx="1862.7" cy="308.64" rx="3.4" ry="3.78"/><ellipse cx="1867.07" cy="312.75" rx="3.4" ry="3.78"/><ellipse cx="1871.44" cy="317.68" rx="3.4" ry="3.78"/><ellipse cx="1875.81" cy="323.76" rx="3.4" ry="3.78"/><ellipse cx="1880.18" cy="330.01" rx="3.4" ry="3.78"/><ellipse cx="1884.56" cy="337.4" rx="3.4" ry="3.78"/><ellipse cx="1888.93" cy="345.3" rx="3.4" ry="3.78"/><ellipse cx="1893.3" cy="353.02" rx="3.4" ry="3.78"/><ellipse cx="1897.67" cy="360.42" rx="3.4" ry="3.78"/><ellipse cx="1902.04" cy="368.15" rx="3.4" ry="3.78"/><ellipse cx="1906.42" cy="374.39" rx="3.4" ry="3.78"/><ellipse cx="1910.79" cy="380.97" rx="3.4" ry="3.78"/><ellipse cx="1915.16" cy="385.9" rx="3.4" ry="3.78"/><ellipse cx="1919.53" cy="390.01" rx="3.4" ry="3.78"/><ellipse cx="1923.9" cy="393.79" rx="3.4" ry="3.78"/><ellipse cx="1928.28" cy="397.41" rx="3.4" ry="3.78"/><ellipse cx="1932.65" cy="399.87" rx="3.4" ry="3.78"/><ellipse cx="1937.02" cy="401.52" rx="3.4" ry="3.78"/><ellipse cx="1941.39" cy="402.83" rx="3.4" ry="3.78"/><ellipse cx="1945.76" cy="403.98" rx="3.4" ry="3.78"/><ellipse cx="1950.14" cy="403.98" rx="3.4" ry="3.78"/><ellipse cx="1954.51" cy="402.67" rx="3.4" ry="3.78"/><ellipse cx="1958.88" cy="401.19" rx="3.4" ry="3.78"/></g>
<rect x="1131.8" y="11" width="865.7" height="703.9" fill="none" stroke="#000" stroke-width="2.2"/>
<path d="M1171.32 714.9v9.26M1215.04 714.9v9.26M1258.76 714.9v9.26M1302.48 714.9v9.26M1346.2 714.9v9.26M1389.92 714.9v9.26M1433.64 714.9v9.26M1477.36 714.9v9.26M1521.08 714.9v9.26M1564.8 714.9v9.26M1608.52 714.9v9.26M1652.24 714.9v9.26M1695.96 714.9v9.26M1739.68 714.9v9.26M1783.4 714.9v9.26M1827.12 714.9v9.26M1870.84 714.9v9.26M1914.56 714.9v9.26M1958.28 714.9v9.26M1131.8 714.86h-7.98M1131.8 676.82h-7.98M1131.8 638.78h-7.98M1131.8 600.74h-7.98M1131.8 562.7h-7.98M1131.8 524.66h-7.98M1131.8 486.62h-7.98M1131.8 448.58h-7.98M1131.8 410.54h-7.98M1131.8 372.5h-7.98M1131.8 334.46h-7.98M1131.8 296.42h-7.98M1131.8 258.38h-7.98M1131.8 220.34h-7.98M1131.8 182.3h-7.98M1131.8 144.26h-7.98M1131.8 106.22h-7.98M1131.8 68.18h-7.98M1131.8 30.14h-7.98" stroke="#000" stroke-width="2.2" fill="none"/>
<g font-family='"Liberation Serif","Times New Roman",Times,serif' font-weight="bold" font-size="28.0" fill="#000" stroke="#000" stroke-width="0.4" stroke-linejoin="round">
<text transform="translate(1171.32,754.3) scale(1,1.13)" text-anchor="middle">-90</text>
<text transform="translate(1215.04,754.3) scale(1,1.13)" text-anchor="middle">-80</text>
<text transform="translate(1258.76,754.3) scale(1,1.13)" text-anchor="middle">-70</text>
<text transform="translate(1302.48,754.3) scale(1,1.13)" text-anchor="middle">-60</text>
<text transform="translate(1346.2,754.3) scale(1,1.13)" text-anchor="middle">-50</text>
<text transform="translate(1389.92,754.3) scale(1,1.13)" text-anchor="middle">-40</text>
<text transform="translate(1433.64,754.3) scale(1,1.13)" text-anchor="middle">-30</text>
<text transform="translate(1477.36,754.3) scale(1,1.13)" text-anchor="middle">-20</text>
<text transform="translate(1521.08,754.3) scale(1,1.13)" text-anchor="middle">-10</text>
<text transform="translate(1566.3,754.3) scale(1,1.13)" text-anchor="middle">0</text>
<text transform="translate(1609.12,754.3) scale(1,1.13)" text-anchor="middle">10</text>
<text transform="translate(1652.84,754.3) scale(1,1.13)" text-anchor="middle">20</text>
<text transform="translate(1696.56,754.3) scale(1,1.13)" text-anchor="middle">30</text>
<text transform="translate(1740.28,754.3) scale(1,1.13)" text-anchor="middle">40</text>
<text transform="translate(1784,754.3) scale(1,1.13)" text-anchor="middle">50</text>
<text transform="translate(1827.72,754.3) scale(1,1.13)" text-anchor="middle">60</text>
<text transform="translate(1871.44,754.3) scale(1,1.13)" text-anchor="middle">70</text>
<text transform="translate(1915.16,754.3) scale(1,1.13)" text-anchor="middle">80</text>
<text transform="translate(1958.88,754.3) scale(1,1.13)" text-anchor="middle">90</text>
<text transform="translate(1113.83,725.92) scale(1,1.13)" text-anchor="end">-28</text>
<text transform="translate(1113.83,687.88) scale(1,1.13)" text-anchor="end">-26</text>
<text transform="translate(1113.83,649.84) scale(1,1.13)" text-anchor="end">-24</text>
<text transform="translate(1113.83,611.8) scale(1,1.13)" text-anchor="end">-22</text>
<text transform="translate(1113.83,573.76) scale(1,1.13)" text-anchor="end">-20</text>
<text transform="translate(1113.83,535.72) scale(1,1.13)" text-anchor="end">-18</text>
<text transform="translate(1113.83,497.68) scale(1,1.13)" text-anchor="end">-16</text>
<text transform="translate(1113.83,459.64) scale(1,1.13)" text-anchor="end">-14</text>
<text transform="translate(1113.83,421.6) scale(1,1.13)" text-anchor="end">-12</text>
<text transform="translate(1113.83,383.56) scale(1,1.13)" text-anchor="end">-10</text>
<text transform="translate(1113.83,345.52) scale(1,1.13)" text-anchor="end">-8</text>
<text transform="translate(1113.83,307.48) scale(1,1.13)" text-anchor="end">-6</text>
<text transform="translate(1113.83,269.44) scale(1,1.13)" text-anchor="end">-4</text>
<text transform="translate(1113.83,231.4) scale(1,1.13)" text-anchor="end">-2</text>
<text transform="translate(1113.83,193.36) scale(1,1.13)" text-anchor="end">0</text>
<text transform="translate(1113.83,155.32) scale(1,1.13)" text-anchor="end">2</text>
<text transform="translate(1113.83,117.28) scale(1,1.13)" text-anchor="end">4</text>
<text transform="translate(1113.83,79.24) scale(1,1.13)" text-anchor="end">6</text>
<text transform="translate(1113.83,41.2) scale(1,1.13)" text-anchor="end">8</text>
</g>
<text transform="translate(1564.65,798.2) scale(1,1.06)" text-anchor="middle" font-family='"Liberation Serif","Times New Roman",Times,serif' font-weight="bold" font-size="36.0" stroke="#000" stroke-width="0.4" stroke-linejoin="round">Theta(deg)</text>
<text transform="translate(1057,366.45) scale(1,1.09) rotate(-90)" text-anchor="middle" font-family='"Liberation Serif","Times New Roman",Times,serif' font-weight="bold" font-size="36.0" stroke="#000" stroke-width="0.4" stroke-linejoin="round">Gain(dB)</text>
<rect x="1581.85" y="642.7" width="401.6" height="55.3" rx="5" ry="5.5" fill="#fff" fill-opacity="0.8" stroke="#cccccc" stroke-width="2"/>
<path d="M1592.45 668.1H1652.75" stroke="#0000ff" stroke-width="2.5"/>
<ellipse cx="1622.75" cy="668.1" rx="3.4" ry="4.38" fill="#0000ff"/>
<text transform="translate(1673.85,678.2) scale(1,1.09)" font-family='"Liberation Serif","Times New Roman",Times,serif' font-size="29.1">Beam Pointing +10°/-10°</text>
<text x="1566.3" y="874.2" text-anchor="middle" font-family='"Liberation Serif","Times New Roman",Times,serif' font-size="41">(b)</text>
</g>
<g id="panel-c">
<polyline fill="none" stroke="#008000" stroke-width="2.25" stroke-linejoin="round" points="143.41,1578.65 147.78,1578.97 152.15,1578.65 156.52,1576.18 160.89,1570.75 165.27,1560.56 169.64,1546.59 174.01,1528.51 178.38,1510.75 182.75,1492.83 187.12,1476.23 191.49,1462.26 195.86,1452.06 200.23,1445.16 204.6,1442.53 208.98,1448.28 213.35,1459.46 217.72,1476.39 222.09,1493.16 226.46,1489.05 230.83,1450.58 235.2,1396.99 239.57,1344.39 243.94,1300.82 248.31,1262.36 252.69,1232.77 257.06,1210.08 261.43,1194.46 265.8,1185.42 270.17,1184.11 274.54,1193.15 278.91,1215.01 283.28,1254.47 287.65,1330.08 292.02,1518.64 296.4,1468.5 300.77,1303.29 305.14,1230.3 309.51,1192.33 313.88,1175.89 318.25,1180.16 322.62,1209.75 326.99,1274.19 331.36,1437.76 335.73,1458.31 340.11,1274.52 344.48,1199.72 348.85,1158.63 353.22,1134.13 357.59,1120.16 361.96,1110.3 366.33,1106.02 370.7,1113.91 375.07,1136.93 379.44,1185.42 383.82,1270.08 388.19,1171.45 392.56,1081.86 396.93,1027.11 401.3,996.04 405.67,987.82 410.04,998.84 414.41,1027.11 418.78,1062.46 423.15,1092.05 427.53,1108.98 431.9,1124.27 436.27,1062.46 440.64,1092.05 445.01,1108.98 449.38,1124.27 453.75,1137.26 458.12,1122.95 462.49,1089.58 466.86,1065.09 471.24,1060.98 475.61,1080.54 479.98,1122.95 484.35,1193.31 488.72,1297.26 493.09,1418.47 497.46,1414.53 501.83,1382.8 506.2,1388.88 510.57,1435.08 514.95,1523.35 519.32,1601.77 523.69,1487.68 528.06,1388.06 532.43,1328.88 536.8,1309.97 541.17,1329.86 545.54,1392.99 549.91,1414.86 554.28,1353.21 558.66,1332.66 563.03,1376.22 567.4,1469.93 571.77,1381.48 576.14,1307.2 580.51,1293.97 584.88,1333.97 589.25,1432.94 593.62,1480.12 597.99,1422.58 602.37,1414.86 606.74,1407.95 611.11,1359.78 615.48,1322.8 619.85,1314.08 624.22,1321.15 628.59,1317.53 632.96,1306.9 637.33,1314.9 641.7,1329.04 646.08,1259.73 650.45,1195.62 654.82,1126.57 659.19,1093.36 663.56,1066.24 667.93,1040.76 672.3,1016.59 676.67,1004.92 681.04,999.66 685.41,1008.7 689.79,1018.89 694.16,1039.61 698.53,1054.73 702.9,1075.28 707.27,1089.25 711.64,1126.57 716.01,1166.02 720.38,1189.2 724.75,1282.75 729.12,1360.83 733.5,1373.65 737.87,1369.87 742.24,1372.34 746.61,1358.37 750.98,1320.06 755.35,1276.5 759.72,1240.83 764.09,1214.85 768.46,1199.73 772.83,1190.69 777.21,1187.73 781.58,1221.59 785.95,1217.48 790.32,1276.5 794.69,1309.87 799.06,1338.15 803.43,1293.1 807.8,1253.15 812.17,1224.06 816.54,1204.66 820.92,1193.15 825.29,1187.73 829.66,1187.73 834.03,1194.3 838.4,1202.19 842.77,1214.85 847.14,1228.82 851.51,1244.44 855.88,1260.88 860.25,1277.81 864.63,1295.57 869,1312.01 873.37,1329.1 877.74,1344.06 882.11,1359.52 886.48,1373.98 890.85,1388.29 895.22,1400.61 899.59,1413.44 903.96,1424.94 908.34,1435.3 912.71,1444.34 917.08,1451.58 921.45,1457 925.82,1459.47 930.19,1459.47"/>
<g fill="#008000"><ellipse cx="143.41" cy="1578.65" rx="3.4" ry="3.82"/><ellipse cx="147.78" cy="1578.97" rx="3.4" ry="3.82"/><ellipse cx="152.15" cy="1578.65" rx="3.4" ry="3.82"/><ellipse cx="156.52" cy="1576.18" rx="3.4" ry="3.82"/><ellipse cx="160.89" cy="1570.75" rx="3.4" ry="3.82"/><ellipse cx="165.27" cy="1560.56" rx="3.4" ry="3.82"/><ellipse cx="169.64" cy="1546.59" rx="3.4" ry="3.82"/><ellipse cx="174.01" cy="1528.51" rx="3.4" ry="3.82"/><ellipse cx="178.38" cy="1510.75" rx="3.4" ry="3.82"/><ellipse cx="182.75" cy="1492.83" rx="3.4" ry="3.82"/><ellipse cx="187.12" cy="1476.23" rx="3.4" ry="3.82"/><ellipse cx="191.49" cy="1462.26" rx="3.4" ry="3.82"/><ellipse cx="195.86" cy="1452.06" rx="3.4" ry="3.82"/><ellipse cx="200.23" cy="1445.16" rx="3.4" ry="3.82"/><ellipse cx="204.6" cy="1442.53" rx="3.4" ry="3.82"/><ellipse cx="208.98" cy="1448.28" rx="3.4" ry="3.82"/><ellipse cx="213.35" cy="1459.46" rx="3.4" ry="3.82"/><ellipse cx="217.72" cy="1476.39" rx="3.4" ry="3.82"/><ellipse cx="222.09" cy="1493.16" rx="3.4" ry="3.82"/><ellipse cx="226.46" cy="1489.05" rx="3.4" ry="3.82"/><ellipse cx="230.83" cy="1450.58" rx="3.4" ry="3.82"/><ellipse cx="235.2" cy="1396.99" rx="3.4" ry="3.82"/><ellipse cx="239.57" cy="1344.39" rx="3.4" ry="3.82"/><ellipse cx="243.94" cy="1300.82" rx="3.4" ry="3.82"/><ellipse cx="248.31" cy="1262.36" rx="3.4" ry="3.82"/><ellipse cx="252.69" cy="1232.77" rx="3.4" ry="3.82"/><ellipse cx="257.06" cy="1210.08" rx="3.4" ry="3.82"/><ellipse cx="261.43" cy="1194.46" rx="3.4" ry="3.82"/><ellipse cx="265.8" cy="1185.42" rx="3.4" ry="3.82"/><ellipse cx="270.17" cy="1184.11" rx="3.4" ry="3.82"/><ellipse cx="274.54" cy="1193.15" rx="3.4" ry="3.82"/><ellipse cx="278.91" cy="1215.01" rx="3.4" ry="3.82"/><ellipse cx="283.28" cy="1254.47" rx="3.4" ry="3.82"/><ellipse cx="287.65" cy="1330.08" rx="3.4" ry="3.82"/><ellipse cx="292.02" cy="1518.64" rx="3.4" ry="3.82"/><ellipse cx="296.4" cy="1468.5" rx="3.4" ry="3.82"/><ellipse cx="300.77" cy="1303.29" rx="3.4" ry="3.82"/><ellipse cx="305.14" cy="1230.3" rx="3.4" ry="3.82"/><ellipse cx="309.51" cy="1192.33" rx="3.4" ry="3.82"/><ellipse cx="313.88" cy="1175.89" rx="3.4" ry="3.82"/><ellipse cx="318.25" cy="1180.16" rx="3.4" ry="3.82"/><ellipse cx="322.62" cy="1209.75" rx="3.4" ry="3.82"/><ellipse cx="326.99" cy="1274.19" rx="3.4" ry="3.82"/><ellipse cx="331.36" cy="1437.76" rx="3.4" ry="3.82"/><ellipse cx="335.73" cy="1458.31" rx="3.4" ry="3.82"/><ellipse cx="340.11" cy="1274.52" rx="3.4" ry="3.82"/><ellipse cx="344.48" cy="1199.72" rx="3.4" ry="3.82"/><ellipse cx="348.85" cy="1158.63" rx="3.4" ry="3.82"/><ellipse cx="353.22" cy="1134.13" rx="3.4" ry="3.82"/><ellipse cx="357.59" cy="1120.16" rx="3.4" ry="3.82"/><ellipse cx="361.96" cy="1110.3" rx="3.4" ry="3.82"/><ellipse cx="366.33" cy="1106.02" rx="3.4" ry="3.82"/><ellipse cx="370.7" cy="1113.91" rx="3.4" ry="3.82"/><ellipse cx="375.07" cy="1136.93" rx="3.4" ry="3.82"/><ellipse cx="379.44" cy="1185.42" rx="3.4" ry="3.82"/><ellipse cx="383.82" cy="1270.08" rx="3.4" ry="3.82"/><ellipse cx="388.19" cy="1171.45" rx="3.4" ry="3.82"/><ellipse cx="392.56" cy="1081.86" rx="3.4" ry="3.82"/><ellipse cx="396.93" cy="1027.11" rx="3.4" ry="3.82"/><ellipse cx="401.3" cy="996.04" rx="3.4" ry="3.82"/><ellipse cx="405.67" cy="987.82" rx="3.4" ry="3.82"/><ellipse cx="410.04" cy="998.84" rx="3.4" ry="3.82"/><ellipse cx="414.41" cy="1027.11" rx="3.4" ry="3.82"/><ellipse cx="418.78" cy="1062.46" rx="3.4" ry="3.82"/><ellipse cx="423.15" cy="1092.05" rx="3.4" ry="3.82"/><ellipse cx="427.53" cy="1108.98" rx="3.4" ry="3.82"/><ellipse cx="431.9" cy="1124.27" rx="3.4" ry="3.82"/><ellipse cx="436.27" cy="1062.46" rx="3.4" ry="3.82"/><ellipse cx="440.64" cy="1092.05" rx="3.4" ry="3.82"/><ellipse cx="445.01" cy="1108.98" rx="3.4" ry="3.82"/><ellipse cx="449.38" cy="1124.27" rx="3.4" ry="3.82"/><ellipse cx="453.75" cy="1137.26" rx="3.4" ry="3.82"/><ellipse cx="458.12" cy="1122.95" rx="3.4" ry="3.82"/><ellipse cx="462.49" cy="1089.58" rx="3.4" ry="3.82"/><ellipse cx="466.86" cy="1065.09" rx="3.4" ry="3.82"/><ellipse cx="471.24" cy="1060.98" rx="3.4" ry="3.82"/><ellipse cx="475.61" cy="1080.54" rx="3.4" ry="3.82"/><ellipse cx="479.98" cy="1122.95" rx="3.4" ry="3.82"/><ellipse cx="484.35" cy="1193.31" rx="3.4" ry="3.82"/><ellipse cx="488.72" cy="1297.26" rx="3.4" ry="3.82"/><ellipse cx="493.09" cy="1418.47" rx="3.4" ry="3.82"/><ellipse cx="497.46" cy="1414.53" rx="3.4" ry="3.82"/><ellipse cx="501.83" cy="1382.8" rx="3.4" ry="3.82"/><ellipse cx="506.2" cy="1388.88" rx="3.4" ry="3.82"/><ellipse cx="510.57" cy="1435.08" rx="3.4" ry="3.82"/><ellipse cx="514.95" cy="1523.35" rx="3.4" ry="3.82"/><ellipse cx="519.32" cy="1601.77" rx="3.4" ry="3.82"/><ellipse cx="523.69" cy="1487.68" rx="3.4" ry="3.82"/><ellipse cx="528.06" cy="1388.06" rx="3.4" ry="3.82"/><ellipse cx="532.43" cy="1328.88" rx="3.4" ry="3.82"/><ellipse cx="536.8" cy="1309.97" rx="3.4" ry="3.82"/><ellipse cx="541.17" cy="1329.86" rx="3.4" ry="3.82"/><ellipse cx="545.54" cy="1392.99" rx="3.4" ry="3.82"/><ellipse cx="549.91" cy="1414.86" rx="3.4" ry="3.82"/><ellipse cx="554.28" cy="1353.21" rx="3.4" ry="3.82"/><ellipse cx="558.66" cy="1332.66" rx="3.4" ry="3.82"/><ellipse cx="563.03" cy="1376.22" rx="3.4" ry="3.82"/><ellipse cx="567.4" cy="1469.93" rx="3.4" ry="3.82"/><ellipse cx="571.77" cy="1381.48" rx="3.4" ry="3.82"/><ellipse cx="576.14" cy="1307.2" rx="3.4" ry="3.82"/><ellipse cx="580.51" cy="1293.97" rx="3.4" ry="3.82"/><ellipse cx="584.88" cy="1333.97" rx="3.4" ry="3.82"/><ellipse cx="589.25" cy="1432.94" rx="3.4" ry="3.82"/><ellipse cx="593.62" cy="1480.12" rx="3.4" ry="3.82"/><ellipse cx="597.99" cy="1422.58" rx="3.4" ry="3.82"/><ellipse cx="602.37" cy="1414.86" rx="3.4" ry="3.82"/><ellipse cx="606.74" cy="1407.95" rx="3.4" ry="3.82"/><ellipse cx="611.11" cy="1359.78" rx="3.4" ry="3.82"/><ellipse cx="615.48" cy="1322.8" rx="3.4" ry="3.82"/><ellipse cx="619.85" cy="1314.08" rx="3.4" ry="3.82"/><ellipse cx="624.22" cy="1321.15" rx="3.4" ry="3.82"/><ellipse cx="628.59" cy="1317.53" rx="3.4" ry="3.82"/><ellipse cx="632.96" cy="1306.9" rx="3.4" ry="3.82"/><ellipse cx="637.33" cy="1314.9" rx="3.4" ry="3.82"/><ellipse cx="641.7" cy="1329.04" rx="3.4" ry="3.82"/><ellipse cx="646.08" cy="1259.73" rx="3.4" ry="3.82"/><ellipse cx="650.45" cy="1195.62" rx="3.4" ry="3.82"/><ellipse cx="654.82" cy="1126.57" rx="3.4" ry="3.82"/><ellipse cx="659.19" cy="1093.36" rx="3.4" ry="3.82"/><ellipse cx="663.56" cy="1066.24" rx="3.4" ry="3.82"/><ellipse cx="667.93" cy="1040.76" rx="3.4" ry="3.82"/><ellipse cx="672.3" cy="1016.59" rx="3.4" ry="3.82"/><ellipse cx="676.67" cy="1004.92" rx="3.4" ry="3.82"/><ellipse cx="681.04" cy="999.66" rx="3.4" ry="3.82"/><ellipse cx="685.41" cy="1008.7" rx="3.4" ry="3.82"/><ellipse cx="689.79" cy="1018.89" rx="3.4" ry="3.82"/><ellipse cx="694.16" cy="1039.61" rx="3.4" ry="3.82"/><ellipse cx="698.53" cy="1054.73" rx="3.4" ry="3.82"/><ellipse cx="702.9" cy="1075.28" rx="3.4" ry="3.82"/><ellipse cx="707.27" cy="1089.25" rx="3.4" ry="3.82"/><ellipse cx="711.64" cy="1126.57" rx="3.4" ry="3.82"/><ellipse cx="716.01" cy="1166.02" rx="3.4" ry="3.82"/><ellipse cx="720.38" cy="1189.2" rx="3.4" ry="3.82"/><ellipse cx="724.75" cy="1282.75" rx="3.4" ry="3.82"/><ellipse cx="729.12" cy="1360.83" rx="3.4" ry="3.82"/><ellipse cx="733.5" cy="1373.65" rx="3.4" ry="3.82"/><ellipse cx="737.87" cy="1369.87" rx="3.4" ry="3.82"/><ellipse cx="742.24" cy="1372.34" rx="3.4" ry="3.82"/><ellipse cx="746.61" cy="1358.37" rx="3.4" ry="3.82"/><ellipse cx="750.98" cy="1320.06" rx="3.4" ry="3.82"/><ellipse cx="755.35" cy="1276.5" rx="3.4" ry="3.82"/><ellipse cx="759.72" cy="1240.83" rx="3.4" ry="3.82"/><ellipse cx="764.09" cy="1214.85" rx="3.4" ry="3.82"/><ellipse cx="768.46" cy="1199.73" rx="3.4" ry="3.82"/><ellipse cx="772.83" cy="1190.69" rx="3.4" ry="3.82"/><ellipse cx="777.21" cy="1187.73" rx="3.4" ry="3.82"/><ellipse cx="781.58" cy="1221.59" rx="3.4" ry="3.82"/><ellipse cx="785.95" cy="1217.48" rx="3.4" ry="3.82"/><ellipse cx="790.32" cy="1276.5" rx="3.4" ry="3.82"/><ellipse cx="794.69" cy="1309.87" rx="3.4" ry="3.82"/><ellipse cx="799.06" cy="1338.15" rx="3.4" ry="3.82"/><ellipse cx="803.43" cy="1293.1" rx="3.4" ry="3.82"/><ellipse cx="807.8" cy="1253.15" rx="3.4" ry="3.82"/><ellipse cx="812.17" cy="1224.06" rx="3.4" ry="3.82"/><ellipse cx="816.54" cy="1204.66" rx="3.4" ry="3.82"/><ellipse cx="820.92" cy="1193.15" rx="3.4" ry="3.82"/><ellipse cx="825.29" cy="1187.73" rx="3.4" ry="3.82"/><ellipse cx="829.66" cy="1187.73" rx="3.4" ry="3.82"/><ellipse cx="834.03" cy="1194.3" rx="3.4" ry="3.82"/><ellipse cx="838.4" cy="1202.19" rx="3.4" ry="3.82"/><ellipse cx="842.77" cy="1214.85" rx="3.4" ry="3.82"/><ellipse cx="847.14" cy="1228.82" rx="3.4" ry="3.82"/><ellipse cx="851.51" cy="1244.44" rx="3.4" ry="3.82"/><ellipse cx="855.88" cy="1260.88" rx="3.4" ry="3.82"/><ellipse cx="860.25" cy="1277.81" rx="3.4" ry="3.82"/><ellipse cx="864.63" cy="1295.57" rx="3.4" ry="3.82"/><ellipse cx="869" cy="1312.01" rx="3.4" ry="3.82"/><ellipse cx="873.37" cy="1329.1" rx="3.4" ry="3.82"/><ellipse cx="877.74" cy="1344.06" rx="3.4" ry="3.82"/><ellipse cx="882.11" cy="1359.52" rx="3.4" ry="3.82"/><ellipse cx="886.48" cy="1373.98" rx="3.4" ry="3.82"/><ellipse cx="890.85" cy="1388.29" rx="3.4" ry="3.82"/><ellipse cx="895.22" cy="1400.61" rx="3.4" ry="3.82"/><ellipse cx="899.59" cy="1413.44" rx="3.4" ry="3.82"/><ellipse cx="903.96" cy="1424.94" rx="3.4" ry="3.82"/><ellipse cx="908.34" cy="1435.3" rx="3.4" ry="3.82"/><ellipse cx="912.71" cy="1444.34" rx="3.4" ry="3.82"/><ellipse cx="917.08" cy="1451.58" rx="3.4" ry="3.82"/><ellipse cx="921.45" cy="1457" rx="3.4" ry="3.82"/><ellipse cx="925.82" cy="1459.47" rx="3.4" ry="3.82"/><ellipse cx="930.19" cy="1459.47" rx="3.4" ry="3.82"/></g>
<rect x="103.25" y="954.3" width="865.75" height="710.5" fill="none" stroke="#000" stroke-width="2.2"/>
<path d="M142.81 1664.8v9.34M186.52 1664.8v9.34M230.23 1664.8v9.34M273.94 1664.8v9.34M317.65 1664.8v9.34M361.36 1664.8v9.34M405.07 1664.8v9.34M448.78 1664.8v9.34M492.49 1664.8v9.34M536.2 1664.8v9.34M579.91 1664.8v9.34M623.62 1664.8v9.34M667.33 1664.8v9.34M711.04 1664.8v9.34M754.75 1664.8v9.34M798.46 1664.8v9.34M842.17 1664.8v9.34M885.88 1664.8v9.34M929.59 1664.8v9.34M103.25 1664.7h-7.98M103.25 1626.3h-7.98M103.25 1587.9h-7.98M103.25 1549.5h-7.98M103.25 1511.1h-7.98M103.25 1472.7h-7.98M103.25 1434.3h-7.98M103.25 1395.9h-7.98M103.25 1357.5h-7.98M103.25 1319.1h-7.98M103.25 1280.7h-7.98M103.25 1242.3h-7.98M103.25 1203.9h-7.98M103.25 1165.5h-7.98M103.25 1127.1h-7.98M103.25 1088.7h-7.98M103.25 1050.3h-7.98M103.25 1011.9h-7.98M103.25 973.5h-7.98" stroke="#000" stroke-width="2.2" fill="none"/>
<g font-family='"Liberation Serif","Times New Roman",Times,serif' font-weight="bold" font-size="28.0" fill="#000" stroke="#000" stroke-width="0.4" stroke-linejoin="round">
<text transform="translate(142.81,1704.5) scale(1,1.15)" text-anchor="middle">-90</text>
<text transform="translate(186.52,1704.5) scale(1,1.15)" text-anchor="middle">-80</text>
<text transform="translate(230.23,1704.5) scale(1,1.15)" text-anchor="middle">-70</text>
<text transform="translate(273.94,1704.5) scale(1,1.15)" text-anchor="middle">-60</text>
<text transform="translate(317.65,1704.5) scale(1,1.15)" text-anchor="middle">-50</text>
<text transform="translate(361.36,1704.5) scale(1,1.15)" text-anchor="middle">-40</text>
<text transform="translate(405.07,1704.5) scale(1,1.15)" text-anchor="middle">-30</text>
<text transform="translate(448.78,1704.5) scale(1,1.15)" text-anchor="middle">-20</text>
<text transform="translate(492.49,1704.5) scale(1,1.15)" text-anchor="middle">-10</text>
<text transform="translate(537.7,1704.5) scale(1,1.15)" text-anchor="middle">0</text>
<text transform="translate(580.51,1704.5) scale(1,1.15)" text-anchor="middle">10</text>
<text transform="translate(624.22,1704.5) scale(1,1.15)" text-anchor="middle">20</text>
<text transform="translate(667.93,1704.5) scale(1,1.15)" text-anchor="middle">30</text>
<text transform="translate(711.64,1704.5) scale(1,1.15)" text-anchor="middle">40</text>
<text transform="translate(755.35,1704.5) scale(1,1.15)" text-anchor="middle">50</text>
<text transform="translate(799.06,1704.5) scale(1,1.15)" text-anchor="middle">60</text>
<text transform="translate(842.77,1704.5) scale(1,1.15)" text-anchor="middle">70</text>
<text transform="translate(886.48,1704.5) scale(1,1.15)" text-anchor="middle">80</text>
<text transform="translate(930.19,1704.5) scale(1,1.15)" text-anchor="middle">90</text>
<text transform="translate(85.28,1675.86) scale(1,1.15)" text-anchor="end">-28</text>
<text transform="translate(85.28,1637.46) scale(1,1.15)" text-anchor="end">-26</text>
<text transform="translate(85.28,1599.06) scale(1,1.15)" text-anchor="end">-24</text>
<text transform="translate(85.28,1560.66) scale(1,1.15)" text-anchor="end">-22</text>
<text transform="translate(85.28,1522.26) scale(1,1.15)" text-anchor="end">-20</text>
<text transform="translate(85.28,1483.86) scale(1,1.15)" text-anchor="end">-18</text>
<text transform="translate(85.28,1445.46) scale(1,1.15)" text-anchor="end">-16</text>
<text transform="translate(85.28,1407.06) scale(1,1.15)" text-anchor="end">-14</text>
<text transform="translate(85.28,1368.66) scale(1,1.15)" text-anchor="end">-12</text>
<text transform="translate(85.28,1330.26) scale(1,1.15)" text-anchor="end">-10</text>
<text transform="translate(85.28,1291.86) scale(1,1.15)" text-anchor="end">-8</text>
<text transform="translate(85.28,1253.46) scale(1,1.15)" text-anchor="end">-6</text>
<text transform="translate(85.28,1215.06) scale(1,1.15)" text-anchor="end">-4</text>
<text transform="translate(85.28,1176.66) scale(1,1.15)" text-anchor="end">-2</text>
<text transform="translate(85.28,1138.26) scale(1,1.15)" text-anchor="end">0</text>
<text transform="translate(85.28,1099.86) scale(1,1.15)" text-anchor="end">2</text>
<text transform="translate(85.28,1061.46) scale(1,1.15)" text-anchor="end">4</text>
<text transform="translate(85.28,1023.06) scale(1,1.15)" text-anchor="end">6</text>
<text transform="translate(85.28,984.66) scale(1,1.15)" text-anchor="end">8</text>
</g>
<text transform="translate(536.12,1749.5) scale(1,1.07)" text-anchor="middle" font-family='"Liberation Serif","Times New Roman",Times,serif' font-weight="bold" font-size="36.0" stroke="#000" stroke-width="0.4" stroke-linejoin="round">Theta(deg)</text>
<text transform="translate(29.5,1313.05) scale(1,1.1) rotate(-90)" text-anchor="middle" font-family='"Liberation Serif","Times New Roman",Times,serif' font-weight="bold" font-size="36.0" stroke="#000" stroke-width="0.4" stroke-linejoin="round">Gain(dB)</text>
<rect x="552.8" y="1592.25" width="402.2" height="55.8" rx="5" ry="5.5" fill="#fff" fill-opacity="0.8" stroke="#cccccc" stroke-width="2"/>
<path d="M563.4 1617.7H623.7" stroke="#008000" stroke-width="2.45"/>
<ellipse cx="593.7" cy="1617.7" rx="3.4" ry="4.42" fill="#008000"/>
<text transform="translate(644.8,1627.9) scale(1,1.1)" font-family='"Liberation Serif","Times New Roman",Times,serif' font-size="29.1">Beam Pointing +30°/-30°</text>
<text x="544.6" y="1821.1" text-anchor="middle" font-family='"Liberation Serif","Times New Roman",Times,serif' font-size="41">(c)</text>
</g>
<g id="panel-d">
<polyline fill="none" stroke="#800080" stroke-width="2.25" stroke-linejoin="round" points="1173.93,1307.26 1178.32,1306.94 1182.72,1305.95 1187.11,1304.31 1191.5,1302.33 1195.89,1299.87 1200.29,1296.09 1204.68,1291.15 1209.07,1286.72 1213.47,1280.47 1217.86,1274.06 1222.25,1267.81 1226.65,1260.08 1231.04,1251.04 1235.43,1241.18 1239.83,1231.64 1244.22,1219.74 1248.61,1208.23 1253,1196.73 1257.4,1185.22 1261.79,1175.85 1266.18,1168.45 1270.58,1163.85 1274.97,1162.53 1279.36,1164.67 1283.76,1173.71 1288.15,1188.83 1292.54,1213.16 1296.93,1247.69 1301.33,1288.03 1305.72,1308.91 1310.11,1280.47 1314.51,1233.71 1318.9,1194.26 1323.29,1168.78 1327.68,1154.81 1332.08,1153.16 1336.47,1165.98 1340.86,1192.94 1345.26,1238.65 1349.65,1315.98 1354.04,1466.4 1358.44,1517.36 1362.83,1346.72 1367.22,1259.52 1371.62,1201.99 1376.01,1159.74 1380.4,1129 1384.79,1112.89 1389.19,1109.93 1393.58,1121.6 1397.97,1146.91 1402.37,1171.24 1406.76,1176.51 1411.15,1163.85 1415.55,1073.1 1419.94,1044.17 1424.33,1019.67 1428.72,1003.56 1433.12,993.37 1437.51,992.06 1441.9,993.37 1446.3,1004.39 1450.69,1019.67 1455.08,1041.05 1459.47,1055.35 1463.87,1079.51 1468.26,1102.53 1472.65,1117.82 1477.05,1161.05 1481.44,1178.64 1485.83,1181.44 1490.23,1236.18 1494.62,1407.87 1499.01,1351.98 1503.4,1229.6 1507.8,1196.73 1512.19,1209.55 1516.58,1241.11 1520.98,1259.26 1525.37,1262.88 1529.76,1296.09 1534.16,1393.9 1538.55,1451.44 1542.94,1354.45 1547.34,1331.59 1551.73,1365.95 1556.12,1420.7 1560.51,1489.41 1564.91,1508.65 1569.3,1279.32 1573.69,1162.2 1578.09,1101.38 1582.48,1077.05 1586.87,1089.87 1591.26,1139.19 1595.66,1211.85 1600.05,1197.88 1604.44,1151.02 1608.84,1145.76 1613.23,1175.03 1617.62,1175.03 1622.02,1115.02 1626.41,1068.01 1630.8,1049.27 1635.19,1056.99 1639.59,1088.55 1643.98,1142.97 1648.37,1227.14 1652.77,1340.47 1657.16,1418.23 1661.55,1371.05 1665.95,1333.07 1670.34,1333.07 1674.73,1379.93 1679.12,1497.47 1683.52,1465.41 1687.91,1350.83 1692.3,1299.87 1696.7,1279.32 1701.09,1270.28 1705.48,1261.56 1709.88,1250.22 1714.27,1250.22 1718.66,1269.13 1723.05,1312.53 1727.45,1361.02 1731.84,1340.47 1736.23,1292.14 1740.63,1268.14 1745.02,1268.14 1749.41,1261.23 1753.81,1204.12 1758.2,1131.79 1762.59,1072.12 1766.98,1027.4 1771.38,996.99 1775.77,978.08 1780.16,969.04 1784.56,967.73 1788.95,976.44 1793.34,993.21 1797.74,1018.69 1802.13,1052.88 1806.52,1098.91 1810.91,1156.94 1815.31,1219.41 1819.7,1255.3 1824.09,1241.16 1828.49,1215.68 1832.88,1199.4 1837.27,1193.98 1841.67,1199.4 1846.06,1213.21 1850.45,1233.43 1854.84,1256.12 1859.24,1274.2 1863.63,1279.46 1868.02,1270.42 1872.42,1253.98 1876.81,1236.23 1881.2,1222.42 1885.6,1210.75 1889.99,1202.69 1894.38,1198.09 1898.77,1196.45 1903.17,1196.45 1907.56,1198.09 1911.95,1200.56 1916.35,1205.16 1920.74,1209.6 1925.13,1214.53 1929.53,1219.46 1933.92,1224.39 1938.31,1229.32 1942.7,1234.58 1947.1,1238.37 1951.49,1241.98 1955.88,1244.94 1960.28,1247.41 1964.67,1249.05"/>
<g fill="#800080"><ellipse cx="1173.93" cy="1307.26" rx="3.4" ry="3.77"/><ellipse cx="1178.32" cy="1306.94" rx="3.4" ry="3.77"/><ellipse cx="1182.72" cy="1305.95" rx="3.4" ry="3.77"/><ellipse cx="1187.11" cy="1304.31" rx="3.4" ry="3.77"/><ellipse cx="1191.5" cy="1302.33" rx="3.4" ry="3.77"/><ellipse cx="1195.89" cy="1299.87" rx="3.4" ry="3.77"/><ellipse cx="1200.29" cy="1296.09" rx="3.4" ry="3.77"/><ellipse cx="1204.68" cy="1291.15" rx="3.4" ry="3.77"/><ellipse cx="1209.07" cy="1286.72" rx="3.4" ry="3.77"/><ellipse cx="1213.47" cy="1280.47" rx="3.4" ry="3.77"/><ellipse cx="1217.86" cy="1274.06" rx="3.4" ry="3.77"/><ellipse cx="1222.25" cy="1267.81" rx="3.4" ry="3.77"/><ellipse cx="1226.65" cy="1260.08" rx="3.4" ry="3.77"/><ellipse cx="1231.04" cy="1251.04" rx="3.4" ry="3.77"/><ellipse cx="1235.43" cy="1241.18" rx="3.4" ry="3.77"/><ellipse cx="1239.83" cy="1231.64" rx="3.4" ry="3.77"/><ellipse cx="1244.22" cy="1219.74" rx="3.4" ry="3.77"/><ellipse cx="1248.61" cy="1208.23" rx="3.4" ry="3.77"/><ellipse cx="1253" cy="1196.73" rx="3.4" ry="3.77"/><ellipse cx="1257.4" cy="1185.22" rx="3.4" ry="3.77"/><ellipse cx="1261.79" cy="1175.85" rx="3.4" ry="3.77"/><ellipse cx="1266.18" cy="1168.45" rx="3.4" ry="3.77"/><ellipse cx="1270.58" cy="1163.85" rx="3.4" ry="3.77"/><ellipse cx="1274.97" cy="1162.53" rx="3.4" ry="3.77"/><ellipse cx="1279.36" cy="1164.67" rx="3.4" ry="3.77"/><ellipse cx="1283.76" cy="1173.71" rx="3.4" ry="3.77"/><ellipse cx="1288.15" cy="1188.83" rx="3.4" ry="3.77"/><ellipse cx="1292.54" cy="1213.16" rx="3.4" ry="3.77"/><ellipse cx="1296.93" cy="1247.69" rx="3.4" ry="3.77"/><ellipse cx="1301.33" cy="1288.03" rx="3.4" ry="3.77"/><ellipse cx="1305.72" cy="1308.91" rx="3.4" ry="3.77"/><ellipse cx="1310.11" cy="1280.47" rx="3.4" ry="3.77"/><ellipse cx="1314.51" cy="1233.71" rx="3.4" ry="3.77"/><ellipse cx="1318.9" cy="1194.26" rx="3.4" ry="3.77"/><ellipse cx="1323.29" cy="1168.78" rx="3.4" ry="3.77"/><ellipse cx="1327.68" cy="1154.81" rx="3.4" ry="3.77"/><ellipse cx="1332.08" cy="1153.16" rx="3.4" ry="3.77"/><ellipse cx="1336.47" cy="1165.98" rx="3.4" ry="3.77"/><ellipse cx="1340.86" cy="1192.94" rx="3.4" ry="3.77"/><ellipse cx="1345.26" cy="1238.65" rx="3.4" ry="3.77"/><ellipse cx="1349.65" cy="1315.98" rx="3.4" ry="3.77"/><ellipse cx="1354.04" cy="1466.4" rx="3.4" ry="3.77"/><ellipse cx="1358.44" cy="1517.36" rx="3.4" ry="3.77"/><ellipse cx="1362.83" cy="1346.72" rx="3.4" ry="3.77"/><ellipse cx="1367.22" cy="1259.52" rx="3.4" ry="3.77"/><ellipse cx="1371.62" cy="1201.99" rx="3.4" ry="3.77"/><ellipse cx="1376.01" cy="1159.74" rx="3.4" ry="3.77"/><ellipse cx="1380.4" cy="1129" rx="3.4" ry="3.77"/><ellipse cx="1384.79" cy="1112.89" rx="3.4" ry="3.77"/><ellipse cx="1389.19" cy="1109.93" rx="3.4" ry="3.77"/><ellipse cx="1393.58" cy="1121.6" rx="3.4" ry="3.77"/><ellipse cx="1397.97" cy="1146.91" rx="3.4" ry="3.77"/><ellipse cx="1402.37" cy="1171.24" rx="3.4" ry="3.77"/><ellipse cx="1406.76" cy="1176.51" rx="3.4" ry="3.77"/><ellipse cx="1411.15" cy="1163.85" rx="3.4" ry="3.77"/><ellipse cx="1415.55" cy="1073.1" rx="3.4" ry="3.77"/><ellipse cx="1419.94" cy="1044.17" rx="3.4" ry="3.77"/><ellipse cx="1424.33" cy="1019.67" rx="3.4" ry="3.77"/><ellipse cx="1428.72" cy="1003.56" rx="3.4" ry="3.77"/><ellipse cx="1433.12" cy="993.37" rx="3.4" ry="3.77"/><ellipse cx="1437.51" cy="992.06" rx="3.4" ry="3.77"/><ellipse cx="1441.9" cy="993.37" rx="3.4" ry="3.77"/><ellipse cx="1446.3" cy="1004.39" rx="3.4" ry="3.77"/><ellipse cx="1450.69" cy="1019.67" rx="3.4" ry="3.77"/><ellipse cx="1455.08" cy="1041.05" rx="3.4" ry="3.77"/><ellipse cx="1459.47" cy="1055.35" rx="3.4" ry="3.77"/><ellipse cx="1463.87" cy="1079.51" rx="3.4" ry="3.77"/><ellipse cx="1468.26" cy="1102.53" rx="3.4" ry="3.77"/><ellipse cx="1472.65" cy="1117.82" rx="3.4" ry="3.77"/><ellipse cx="1477.05" cy="1161.05" rx="3.4" ry="3.77"/><ellipse cx="1481.44" cy="1178.64" rx="3.4" ry="3.77"/><ellipse cx="1485.83" cy="1181.44" rx="3.4" ry="3.77"/><ellipse cx="1490.23" cy="1236.18" rx="3.4" ry="3.77"/><ellipse cx="1494.62" cy="1407.87" rx="3.4" ry="3.77"/><ellipse cx="1499.01" cy="1351.98" rx="3.4" ry="3.77"/><ellipse cx="1503.4" cy="1229.6" rx="3.4" ry="3.77"/><ellipse cx="1507.8" cy="1196.73" rx="3.4" ry="3.77"/><ellipse cx="1512.19" cy="1209.55" rx="3.4" ry="3.77"/><ellipse cx="1516.58" cy="1241.11" rx="3.4" ry="3.77"/><ellipse cx="1520.98" cy="1259.26" rx="3.4" ry="3.77"/><ellipse cx="1525.37" cy="1262.88" rx="3.4" ry="3.77"/><ellipse cx="1529.76" cy="1296.09" rx="3.4" ry="3.77"/><ellipse cx="1534.16" cy="1393.9" rx="3.4" ry="3.77"/><ellipse cx="1538.55" cy="1451.44" rx="3.4" ry="3.77"/><ellipse cx="1542.94" cy="1354.45" rx="3.4" ry="3.77"/><ellipse cx="1547.34" cy="1331.59" rx="3.4" ry="3.77"/><ellipse cx="1551.73" cy="1365.95" rx="3.4" ry="3.77"/><ellipse cx="1556.12" cy="1420.7" rx="3.4" ry="3.77"/><ellipse cx="1560.51" cy="1489.41" rx="3.4" ry="3.77"/><ellipse cx="1564.91" cy="1508.65" rx="3.4" ry="3.77"/><ellipse cx="1569.3" cy="1279.32" rx="3.4" ry="3.77"/><ellipse cx="1573.69" cy="1162.2" rx="3.4" ry="3.77"/><ellipse cx="1578.09" cy="1101.38" rx="3.4" ry="3.77"/><ellipse cx="1582.48" cy="1077.05" rx="3.4" ry="3.77"/><ellipse cx="1586.87" cy="1089.87" rx="3.4" ry="3.77"/><ellipse cx="1591.26" cy="1139.19" rx="3.4" ry="3.77"/><ellipse cx="1595.66" cy="1211.85" rx="3.4" ry="3.77"/><ellipse cx="1600.05" cy="1197.88" rx="3.4" ry="3.77"/><ellipse cx="1604.44" cy="1151.02" rx="3.4" ry="3.77"/><ellipse cx="1608.84" cy="1145.76" rx="3.4" ry="3.77"/><ellipse cx="1613.23" cy="1175.03" rx="3.4" ry="3.77"/><ellipse cx="1617.62" cy="1175.03" rx="3.4" ry="3.77"/><ellipse cx="1622.02" cy="1115.02" rx="3.4" ry="3.77"/><ellipse cx="1626.41" cy="1068.01" rx="3.4" ry="3.77"/><ellipse cx="1630.8" cy="1049.27" rx="3.4" ry="3.77"/><ellipse cx="1635.19" cy="1056.99" rx="3.4" ry="3.77"/><ellipse cx="1639.59" cy="1088.55" rx="3.4" ry="3.77"/><ellipse cx="1643.98" cy="1142.97" rx="3.4" ry="3.77"/><ellipse cx="1648.37" cy="1227.14" rx="3.4" ry="3.77"/><ellipse cx="1652.77" cy="1340.47" rx="3.4" ry="3.77"/><ellipse cx="1657.16" cy="1418.23" rx="3.4" ry="3.77"/><ellipse cx="1661.55" cy="1371.05" rx="3.4" ry="3.77"/><ellipse cx="1665.95" cy="1333.07" rx="3.4" ry="3.77"/><ellipse cx="1670.34" cy="1333.07" rx="3.4" ry="3.77"/><ellipse cx="1674.73" cy="1379.93" rx="3.4" ry="3.77"/><ellipse cx="1679.12" cy="1497.47" rx="3.4" ry="3.77"/><ellipse cx="1683.52" cy="1465.41" rx="3.4" ry="3.77"/><ellipse cx="1687.91" cy="1350.83" rx="3.4" ry="3.77"/><ellipse cx="1692.3" cy="1299.87" rx="3.4" ry="3.77"/><ellipse cx="1696.7" cy="1279.32" rx="3.4" ry="3.77"/><ellipse cx="1701.09" cy="1270.28" rx="3.4" ry="3.77"/><ellipse cx="1705.48" cy="1261.56" rx="3.4" ry="3.77"/><ellipse cx="1709.88" cy="1250.22" rx="3.4" ry="3.77"/><ellipse cx="1714.27" cy="1250.22" rx="3.4" ry="3.77"/><ellipse cx="1718.66" cy="1269.13" rx="3.4" ry="3.77"/><ellipse cx="1723.05" cy="1312.53" rx="3.4" ry="3.77"/><ellipse cx="1727.45" cy="1361.02" rx="3.4" ry="3.77"/><ellipse cx="1731.84" cy="1340.47" rx="3.4" ry="3.77"/><ellipse cx="1736.23" cy="1292.14" rx="3.4" ry="3.77"/><ellipse cx="1740.63" cy="1268.14" rx="3.4" ry="3.77"/><ellipse cx="1745.02" cy="1268.14" rx="3.4" ry="3.77"/><ellipse cx="1749.41" cy="1261.23" rx="3.4" ry="3.77"/><ellipse cx="1753.81" cy="1204.12" rx="3.4" ry="3.77"/><ellipse cx="1758.2" cy="1131.79" rx="3.4" ry="3.77"/><ellipse cx="1762.59" cy="1072.12" rx="3.4" ry="3.77"/><ellipse cx="1766.98" cy="1027.4" rx="3.4" ry="3.77"/><ellipse cx="1771.38" cy="996.99" rx="3.4" ry="3.77"/><ellipse cx="1775.77" cy="978.08" rx="3.4" ry="3.77"/><ellipse cx="1780.16" cy="969.04" rx="3.4" ry="3.77"/><ellipse cx="1784.56" cy="967.73" rx="3.4" ry="3.77"/><ellipse cx="1788.95" cy="976.44" rx="3.4" ry="3.77"/><ellipse cx="1793.34" cy="993.21" rx="3.4" ry="3.77"/><ellipse cx="1797.74" cy="1018.69" rx="3.4" ry="3.77"/><ellipse cx="1802.13" cy="1052.88" rx="3.4" ry="3.77"/><ellipse cx="1806.52" cy="1098.91" rx="3.4" ry="3.77"/><ellipse cx="1810.91" cy="1156.94" rx="3.4" ry="3.77"/><ellipse cx="1815.31" cy="1219.41" rx="3.4" ry="3.77"/><ellipse cx="1819.7" cy="1255.3" rx="3.4" ry="3.77"/><ellipse cx="1824.09" cy="1241.16" rx="3.4" ry="3.77"/><ellipse cx="1828.49" cy="1215.68" rx="3.4" ry="3.77"/><ellipse cx="1832.88" cy="1199.4" rx="3.4" ry="3.77"/><ellipse cx="1837.27" cy="1193.98" rx="3.4" ry="3.77"/><ellipse cx="1841.67" cy="1199.4" rx="3.4" ry="3.77"/><ellipse cx="1846.06" cy="1213.21" rx="3.4" ry="3.77"/><ellipse cx="1850.45" cy="1233.43" rx="3.4" ry="3.77"/><ellipse cx="1854.84" cy="1256.12" rx="3.4" ry="3.77"/><ellipse cx="1859.24" cy="1274.2" rx="3.4" ry="3.77"/><ellipse cx="1863.63" cy="1279.46" rx="3.4" ry="3.77"/><ellipse cx="1868.02" cy="1270.42" rx="3.4" ry="3.77"/><ellipse cx="1872.42" cy="1253.98" rx="3.4" ry="3.77"/><ellipse cx="1876.81" cy="1236.23" rx="3.4" ry="3.77"/><ellipse cx="1881.2" cy="1222.42" rx="3.4" ry="3.77"/><ellipse cx="1885.6" cy="1210.75" rx="3.4" ry="3.77"/><ellipse cx="1889.99" cy="1202.69" rx="3.4" ry="3.77"/><ellipse cx="1894.38" cy="1198.09" rx="3.4" ry="3.77"/><ellipse cx="1898.77" cy="1196.45" rx="3.4" ry="3.77"/><ellipse cx="1903.17" cy="1196.45" rx="3.4" ry="3.77"/><ellipse cx="1907.56" cy="1198.09" rx="3.4" ry="3.77"/><ellipse cx="1911.95" cy="1200.56" rx="3.4" ry="3.77"/><ellipse cx="1916.35" cy="1205.16" rx="3.4" ry="3.77"/><ellipse cx="1920.74" cy="1209.6" rx="3.4" ry="3.77"/><ellipse cx="1925.13" cy="1214.53" rx="3.4" ry="3.77"/><ellipse cx="1929.53" cy="1219.46" rx="3.4" ry="3.77"/><ellipse cx="1933.92" cy="1224.39" rx="3.4" ry="3.77"/><ellipse cx="1938.31" cy="1229.32" rx="3.4" ry="3.77"/><ellipse cx="1942.7" cy="1234.58" rx="3.4" ry="3.77"/><ellipse cx="1947.1" cy="1238.37" rx="3.4" ry="3.77"/><ellipse cx="1951.49" cy="1241.98" rx="3.4" ry="3.77"/><ellipse cx="1955.88" cy="1244.94" rx="3.4" ry="3.77"/><ellipse cx="1960.28" cy="1247.41" rx="3.4" ry="3.77"/><ellipse cx="1964.67" cy="1249.05" rx="3.4" ry="3.77"/></g>
<rect x="1133.6" y="954.3" width="870.6" height="706" fill="none" stroke="#000" stroke-width="2.2"/>
<path d="M1173.33 1660.3v9.29M1217.26 1660.3v9.29M1261.19 1660.3v9.29M1305.12 1660.3v9.29M1349.05 1660.3v9.29M1392.98 1660.3v9.29M1436.91 1660.3v9.29M1480.84 1660.3v9.29M1524.77 1660.3v9.29M1568.7 1660.3v9.29M1612.63 1660.3v9.29M1656.56 1660.3v9.29M1700.49 1660.3v9.29M1744.42 1660.3v9.29M1788.35 1660.3v9.29M1832.28 1660.3v9.29M1876.21 1660.3v9.29M1920.14 1660.3v9.29M1964.07 1660.3v9.29M1133.6 1659.96h-8.03M1133.6 1621.82h-8.03M1133.6 1583.68h-8.03M1133.6 1545.54h-8.03M1133.6 1507.4h-8.03M1133.6 1469.26h-8.03M1133.6 1431.12h-8.03M1133.6 1392.98h-8.03M1133.6 1354.84h-8.03M1133.6 1316.7h-8.03M1133.6 1278.56h-8.03M1133.6 1240.42h-8.03M1133.6 1202.28h-8.03M1133.6 1164.14h-8.03M1133.6 1126h-8.03M1133.6 1087.86h-8.03M1133.6 1049.72h-8.03M1133.6 1011.58h-8.03M1133.6 973.44h-8.03" stroke="#000" stroke-width="2.2" fill="none"/>
<g font-family='"Liberation Serif","Times New Roman",Times,serif' font-weight="bold" font-size="28.0" fill="#000" stroke="#000" stroke-width="0.4" stroke-linejoin="round">
<text transform="translate(1173.33,1699.8) scale(1,1.13)" text-anchor="middle">-90</text>
<text transform="translate(1217.26,1699.8) scale(1,1.13)" text-anchor="middle">-80</text>
<text transform="translate(1261.19,1699.8) scale(1,1.13)" text-anchor="middle">-70</text>
<text transform="translate(1305.12,1699.8) scale(1,1.13)" text-anchor="middle">-60</text>
<text transform="translate(1349.05,1699.8) scale(1,1.13)" text-anchor="middle">-50</text>
<text transform="translate(1392.98,1699.8) scale(1,1.13)" text-anchor="middle">-40</text>
<text transform="translate(1436.91,1699.8) scale(1,1.13)" text-anchor="middle">-30</text>
<text transform="translate(1480.84,1699.8) scale(1,1.13)" text-anchor="middle">-20</text>
<text transform="translate(1524.77,1699.8) scale(1,1.13)" text-anchor="middle">-10</text>
<text transform="translate(1570.2,1699.8) scale(1,1.13)" text-anchor="middle">0</text>
<text transform="translate(1613.23,1699.8) scale(1,1.13)" text-anchor="middle">10</text>
<text transform="translate(1657.16,1699.8) scale(1,1.13)" text-anchor="middle">20</text>
<text transform="translate(1701.09,1699.8) scale(1,1.13)" text-anchor="middle">30</text>
<text transform="translate(1745.02,1699.8) scale(1,1.13)" text-anchor="middle">40</text>
<text transform="translate(1788.95,1699.8) scale(1,1.13)" text-anchor="middle">50</text>
<text transform="translate(1832.88,1699.8) scale(1,1.13)" text-anchor="middle">60</text>
<text transform="translate(1876.81,1699.8) scale(1,1.13)" text-anchor="middle">70</text>
<text transform="translate(1920.74,1699.8) scale(1,1.13)" text-anchor="middle">80</text>
<text transform="translate(1964.67,1699.8) scale(1,1.13)" text-anchor="middle">90</text>
<text transform="translate(1115.54,1670.99) scale(1,1.13)" text-anchor="end">-28</text>
<text transform="translate(1115.54,1632.85) scale(1,1.13)" text-anchor="end">-26</text>
<text transform="translate(1115.54,1594.71) scale(1,1.13)" text-anchor="end">-24</text>
<text transform="translate(1115.54,1556.57) scale(1,1.13)" text-anchor="end">-22</text>
<text transform="translate(1115.54,1518.43) scale(1,1.13)" text-anchor="end">-20</text>
<text transform="translate(1115.54,1480.29) scale(1,1.13)" text-anchor="end">-18</text>
<text transform="translate(1115.54,1442.15) scale(1,1.13)" text-anchor="end">-16</text>
<text transform="translate(1115.54,1404.01) scale(1,1.13)" text-anchor="end">-14</text>
<text transform="translate(1115.54,1365.87) scale(1,1.13)" text-anchor="end">-12</text>
<text transform="translate(1115.54,1327.73) scale(1,1.13)" text-anchor="end">-10</text>
<text transform="translate(1115.54,1289.59) scale(1,1.13)" text-anchor="end">-8</text>
<text transform="translate(1115.54,1251.45) scale(1,1.13)" text-anchor="end">-6</text>
<text transform="translate(1115.54,1213.31) scale(1,1.13)" text-anchor="end">-4</text>
<text transform="translate(1115.54,1175.17) scale(1,1.13)" text-anchor="end">-2</text>
<text transform="translate(1115.54,1137.03) scale(1,1.13)" text-anchor="end">0</text>
<text transform="translate(1115.54,1098.89) scale(1,1.13)" text-anchor="end">2</text>
<text transform="translate(1115.54,1060.75) scale(1,1.13)" text-anchor="end">4</text>
<text transform="translate(1115.54,1022.61) scale(1,1.13)" text-anchor="end">6</text>
<text transform="translate(1115.54,984.47) scale(1,1.13)" text-anchor="end">8</text>
</g>
<text transform="translate(1568.9,1743.4) scale(1,1.06)" text-anchor="middle" font-family='"Liberation Serif","Times New Roman",Times,serif' font-weight="bold" font-size="36.0" stroke="#000" stroke-width="0.4" stroke-linejoin="round">Theta(deg)</text>
<text transform="translate(1058.4,1310.8) scale(1,1.09) rotate(-90)" text-anchor="middle" font-family='"Liberation Serif","Times New Roman",Times,serif' font-weight="bold" font-size="36.0" stroke="#000" stroke-width="0.4" stroke-linejoin="round">Gain(dB)</text>
<rect x="1148.85" y="1587.9" width="403.4" height="55.8" rx="5" ry="5.5" fill="#fff" fill-opacity="0.8" stroke="#cccccc" stroke-width="2"/>
<path d="M1159.45 1613.5H1219.75" stroke="#800080" stroke-width="2.45"/>
<ellipse cx="1189.75" cy="1613.5" rx="3.4" ry="4.37" fill="#800080"/>
<text transform="translate(1240.85,1623.7) scale(1,1.09)" font-family='"Liberation Serif","Times New Roman",Times,serif' font-size="29.1">Beam Pointing -30°/+50°</text>
<text x="1566.3" y="1821.1" text-anchor="middle" font-family='"Liberation Serif","Times New Roman",Times,serif' font-size="41">(d)</text>
</g>
</svg>
</body></html>
